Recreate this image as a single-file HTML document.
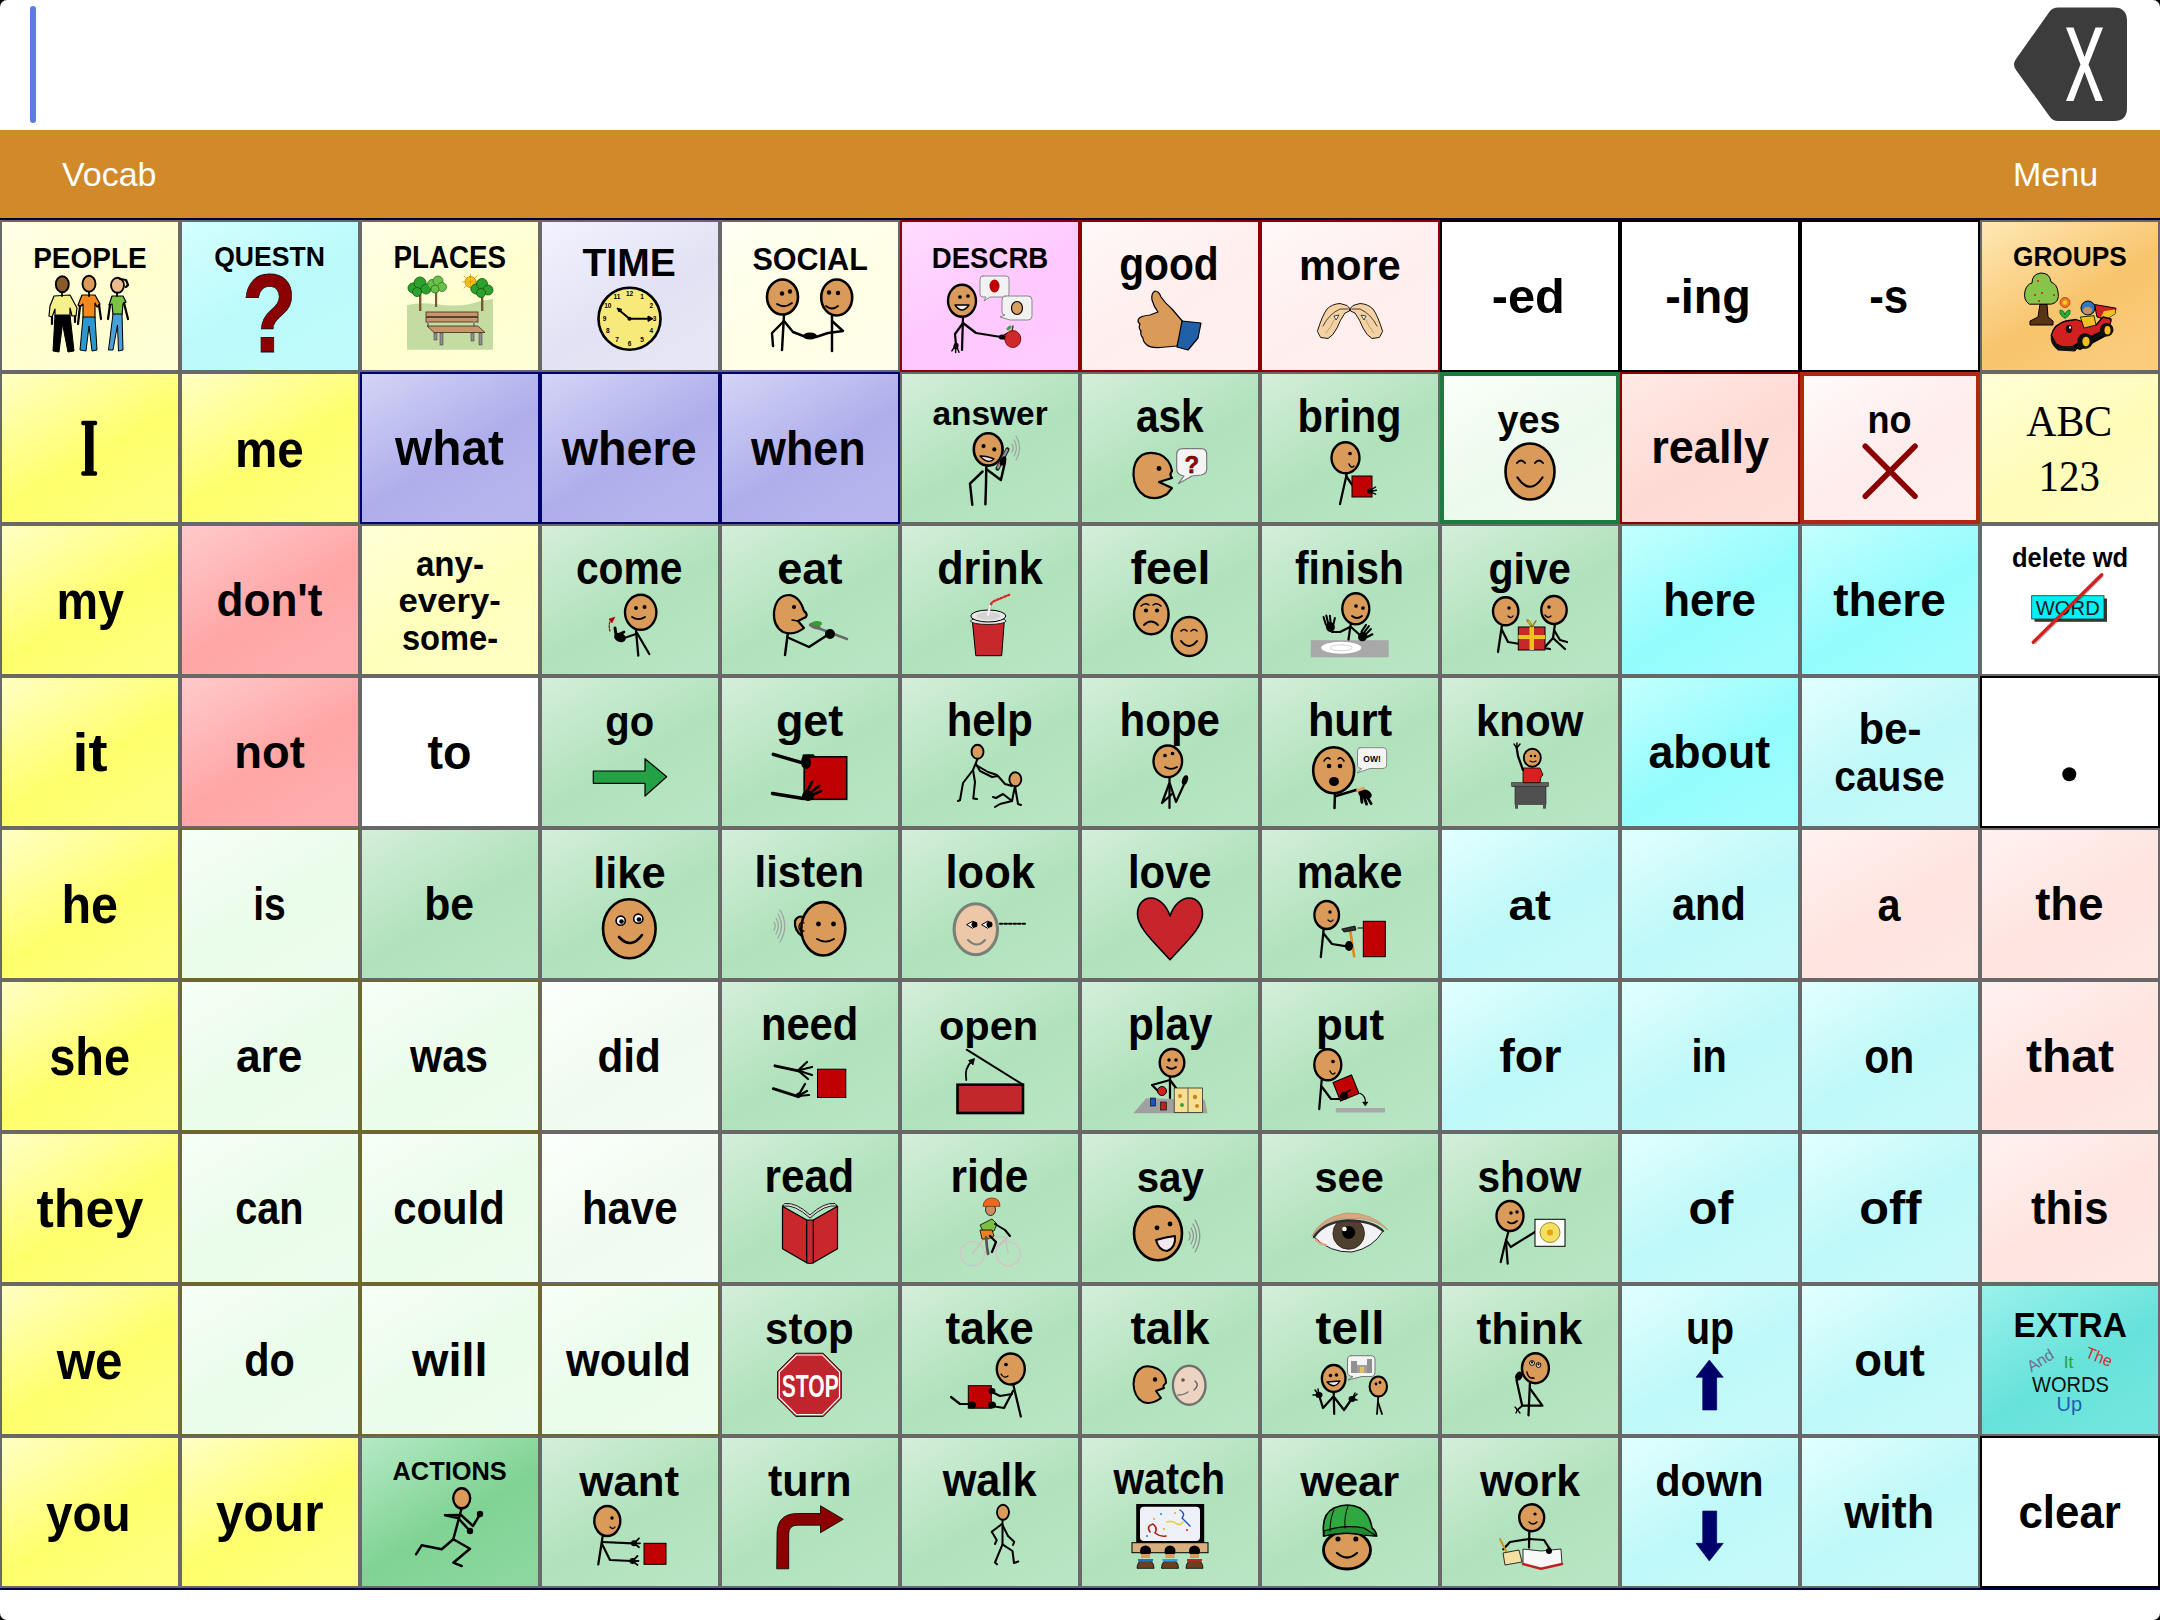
<!DOCTYPE html><html><head><meta charset="utf-8"><title>Vocab</title><style>
html,body{margin:0;padding:0;background:#000;width:2160px;height:1620px;overflow:hidden}
svg{display:block}
</style></head><body>
<svg width="2160" height="1620" viewBox="0 0 2160 1620" font-family="'Liberation Sans', sans-serif">
<defs>
<linearGradient id="g_cream" x1="0" y1="0" x2="0.7" y2="1"><stop offset="0" stop-color="#FFFFE8"/><stop offset="0.62" stop-color="#FFFFD0"/><stop offset="1" stop-color="#FFFFD5"/></linearGradient>
<linearGradient id="g_qcyan" x1="0" y1="0" x2="0.7" y2="1"><stop offset="0" stop-color="#D4FFFF"/><stop offset="0.62" stop-color="#BAFAFA"/><stop offset="1" stop-color="#C0FBFB"/></linearGradient>
<linearGradient id="g_time" x1="0" y1="0" x2="0.7" y2="1"><stop offset="0" stop-color="#F2F2FF"/><stop offset="0.62" stop-color="#E2E2F4"/><stop offset="1" stop-color="#E6E6F6"/></linearGradient>
<linearGradient id="g_social" x1="0" y1="0" x2="0.7" y2="1"><stop offset="0" stop-color="#FFFFF4"/><stop offset="0.62" stop-color="#FFFFE6"/><stop offset="1" stop-color="#FFFFE9"/></linearGradient>
<linearGradient id="g_descrb" x1="0" y1="0" x2="0.7" y2="1"><stop offset="0" stop-color="#FFDCFF"/><stop offset="0.62" stop-color="#FFC8FF"/><stop offset="1" stop-color="#FFCCFF"/></linearGradient>
<linearGradient id="g_lpink" x1="0" y1="0" x2="0.7" y2="1"><stop offset="0" stop-color="#FFF8F8"/><stop offset="0.62" stop-color="#FFEEEE"/><stop offset="1" stop-color="#FFF0F0"/></linearGradient>
<linearGradient id="g_white" x1="0" y1="0" x2="0.7" y2="1"><stop offset="0" stop-color="#FFFFFF"/><stop offset="0.62" stop-color="#FFFFFF"/><stop offset="1" stop-color="#FFFFFF"/></linearGradient>
<linearGradient id="g_groups" x1="0" y1="0" x2="0.7" y2="1"><stop offset="0" stop-color="#FFE8B4"/><stop offset="0.62" stop-color="#F8C46C"/><stop offset="1" stop-color="#FACC7C"/></linearGradient>
<linearGradient id="g_yellow" x1="0" y1="0" x2="0.7" y2="1"><stop offset="0" stop-color="#FFFFC4"/><stop offset="0.62" stop-color="#FFFF6C"/><stop offset="1" stop-color="#FFFF7F"/></linearGradient>
<linearGradient id="g_peri" x1="0" y1="0" x2="0.7" y2="1"><stop offset="0" stop-color="#D4D4F6"/><stop offset="0.62" stop-color="#AEAEEC"/><stop offset="1" stop-color="#B6B6EE"/></linearGradient>
<linearGradient id="g_green" x1="0" y1="0" x2="0.7" y2="1"><stop offset="0" stop-color="#D4EEDA"/><stop offset="0.62" stop-color="#B0E2BC"/><stop offset="1" stop-color="#B8E5C3"/></linearGradient>
<linearGradient id="g_yes" x1="0" y1="0" x2="0.7" y2="1"><stop offset="0" stop-color="#FAFFFA"/><stop offset="0.62" stop-color="#ECFAEC"/><stop offset="1" stop-color="#EFFBEF"/></linearGradient>
<linearGradient id="g_really" x1="0" y1="0" x2="0.7" y2="1"><stop offset="0" stop-color="#FFEAE6"/><stop offset="0.62" stop-color="#FFDAD4"/><stop offset="1" stop-color="#FFDED8"/></linearGradient>
<linearGradient id="g_no" x1="0" y1="0" x2="0.7" y2="1"><stop offset="0" stop-color="#FFFAFA"/><stop offset="0.62" stop-color="#FFECEC"/><stop offset="1" stop-color="#FFEFEF"/></linearGradient>
<linearGradient id="g_abc" x1="0" y1="0" x2="0.7" y2="1"><stop offset="0" stop-color="#FFFFD8"/><stop offset="0.62" stop-color="#FFFCB8"/><stop offset="1" stop-color="#FFFDBF"/></linearGradient>
<linearGradient id="g_salmon" x1="0" y1="0" x2="0.7" y2="1"><stop offset="0" stop-color="#FFCACA"/><stop offset="0.62" stop-color="#FFA6A6"/><stop offset="1" stop-color="#FFAEAE"/></linearGradient>
<linearGradient id="g_anyy" x1="0" y1="0" x2="0.7" y2="1"><stop offset="0" stop-color="#FFFFD8"/><stop offset="0.62" stop-color="#FFFFBC"/><stop offset="1" stop-color="#FFFFC2"/></linearGradient>
<linearGradient id="g_cyan" x1="0" y1="0" x2="0.7" y2="1"><stop offset="0" stop-color="#C4FFFF"/><stop offset="0.62" stop-color="#94FCFC"/><stop offset="1" stop-color="#9FFDFD"/></linearGradient>
<linearGradient id="g_lcyan" x1="0" y1="0" x2="0.7" y2="1"><stop offset="0" stop-color="#E2FFFF"/><stop offset="0.62" stop-color="#BEF8F8"/><stop offset="1" stop-color="#C6FAFA"/></linearGradient>
<linearGradient id="g_lgreen" x1="0" y1="0" x2="0.7" y2="1"><stop offset="0" stop-color="#F6FFF6"/><stop offset="0.62" stop-color="#EAFCEA"/><stop offset="1" stop-color="#EDFDED"/></linearGradient>
<linearGradient id="g_lgreen2" x1="0" y1="0" x2="0.7" y2="1"><stop offset="0" stop-color="#FCFFFC"/><stop offset="0.62" stop-color="#F0FBF0"/><stop offset="1" stop-color="#F3FCF3"/></linearGradient>
<linearGradient id="g_lpink2" x1="0" y1="0" x2="0.7" y2="1"><stop offset="0" stop-color="#FFF2F0"/><stop offset="0.62" stop-color="#FFE4E0"/><stop offset="1" stop-color="#FFE7E4"/></linearGradient>
<linearGradient id="g_actions" x1="0" y1="0" x2="0.7" y2="1"><stop offset="0" stop-color="#B4EAC4"/><stop offset="0.62" stop-color="#80D294"/><stop offset="1" stop-color="#8BD79F"/></linearGradient>
<linearGradient id="g_extra" x1="0" y1="0" x2="0.7" y2="1"><stop offset="0" stop-color="#9AF2EC"/><stop offset="0.62" stop-color="#66E2DA"/><stop offset="1" stop-color="#71E6DE"/></linearGradient>
</defs>
<rect x="0" y="0" width="2160" height="1620" rx="7" ry="7" fill="#FFFFFF"/>
<rect x="30" y="6" width="6" height="117" rx="3" fill="#5B7DE2"/>
<path d="M2016 59 L2050 11 Q2053 7.5 2058 7.5 L2114 7.5 Q2127 7.5 2127 21 L2127 108 Q2127 121 2114 121 L2058 121 Q2053 121 2050 117 L2016 70 Q2012 64.5 2016 59 Z" fill="#3C3C3C"/>
<path d="M2066 27.5 L2073.5 27.5 L2084.5 57 L2095.5 27.5 L2103 27.5 L2088.5 64.5 L2103 101 L2095.5 101 L2084.5 72 L2073.5 101 L2066 101 L2080.5 64.5 Z" fill="#FFFFFF"/>
<rect x="0" y="130" width="2160" height="88" fill="#D1892A"/>
<text x="62" y="185.5" font-size="34" fill="#FFFFFF">Vocab</text>
<text x="2013" y="185.5" font-size="34" fill="#FFFFFF">Menu</text>
<rect x="0" y="218" width="2160" height="2" fill="#000040"/>
<rect x="0" y="1588" width="2160" height="2" fill="#000040"/>
<g transform="translate(0,220)">
<rect x="0" y="0" width="180" height="152" fill="#686868"/>
<rect x="2" y="2" width="176" height="148" fill="url(#g_cream)"/>
<text transform="translate(33.20,47.5) scale(0.9772,1)" font-size="28.65" font-weight="bold" fill="#000">PEOPLE</text>
<polygon points="54,76 70,75 77,88 76,96 72,96 70,88 70,96 55,96 55,89 52,97 49,96 50,86" fill="#F6F08C" stroke="#000" stroke-width="1.2" stroke-linejoin="round"/><polygon points="55,95 70,95 74,131 68,132 62.5,104 59,132 53,131" fill="#000" stroke="#000" stroke-width="1" stroke-linejoin="round"/><polyline points="52,97 52,104" fill="none" stroke="#000" stroke-width="2.24" stroke-linecap="round" stroke-linejoin="round" /><polyline points="75,96 75,102" fill="none" stroke="#000" stroke-width="2.24" stroke-linecap="round" stroke-linejoin="round" /><ellipse cx="62.3" cy="64.2" rx="6.5" ry="8" fill="#8B5A2B" stroke="#000" stroke-width="1.89"/><polyline points="62,72 62,76" fill="none" stroke="#000" stroke-width="1.79" stroke-linecap="round" stroke-linejoin="round" /><polygon points="82,75 95,75 100,84 97,87 95,83 95,98 83,98 83,84 80,87 78,85" fill="#F08A1E" stroke="#000" stroke-width="1.2" stroke-linejoin="round"/><polygon points="83,97 95,97 97,130 92,131 89,106 86,131 80,130" fill="#2A98D0" stroke="#000" stroke-width="1" stroke-linejoin="round"/><polyline points="80,86 78,104" fill="none" stroke="#000" stroke-width="2.24" stroke-linecap="round" stroke-linejoin="round" /><polyline points="99,85 101,99" fill="none" stroke="#000" stroke-width="2.24" stroke-linecap="round" stroke-linejoin="round" /><ellipse cx="89" cy="63.7" rx="6.5" ry="8" fill="#D99A5A" stroke="#000" stroke-width="1.89"/><polyline points="89,72 89,76" fill="none" stroke="#000" stroke-width="1.79" stroke-linecap="round" stroke-linejoin="round" /><polygon points="112,76 123,76 126,82 123,84 122,95 113,95 112,84 109,85" fill="#7CC244" stroke="#000" stroke-width="1.2" stroke-linejoin="round"/><polygon points="113,94 122,94 123,130 118.5,131 117.5,105 113,130 108.5,130" fill="#4AA0D8" stroke="#000" stroke-width="1" stroke-linejoin="round"/><polyline points="110,85 108,99" fill="none" stroke="#000" stroke-width="2.24" stroke-linecap="round" stroke-linejoin="round" /><polyline points="124,83 128,99" fill="none" stroke="#000" stroke-width="2.24" stroke-linecap="round" stroke-linejoin="round" /><ellipse cx="117.5" cy="65.3" rx="6.5" ry="7.5" fill="#E8BC90" stroke="#000" stroke-width="1.89"/><polyline points="120,59 126,60 128,65 126,67" fill="none" stroke="#000" stroke-width="2.24" stroke-linecap="round" stroke-linejoin="round" /><polyline points="117,73 117,76" fill="none" stroke="#000" stroke-width="1.79" stroke-linecap="round" stroke-linejoin="round" />
</g>
<g transform="translate(180,220)">
<rect x="0" y="0" width="180" height="152" fill="#686868"/>
<rect x="2" y="2" width="176" height="148" fill="url(#g_qcyan)"/>
<text transform="translate(34.20,45.8) scale(0.9717,1)" font-size="27.36" font-weight="bold" fill="#000">QUESTN</text>
<text stroke="#200000" stroke-width="0.8" transform="translate(61.70,131.7) scale(0.8101,1)" font-size="111.32" font-weight="bold" fill="#8B0000">?</text>
</g>
<g transform="translate(360,220)">
<rect x="0" y="0" width="180" height="152" fill="#686868"/>
<rect x="2" y="2" width="176" height="148" fill="url(#g_cream)"/>
<text transform="translate(33.40,48) scale(0.9105,1)" font-size="30.52" font-weight="bold" fill="#000">PLACES</text>
<path d="M47,85 Q60,82 75,84 Q95,87 110,84 Q122,80 133,79 L133,129.7 L47,129.7 Z" fill="#C4DCA2" stroke="none" stroke-width="0" stroke-linecap="round" stroke-linejoin="round" /><rect x="59" y="66" width="2.4" height="25" rx="0" fill="#7A5A30" stroke="none" stroke-width="1" /><rect x="75" y="66" width="2.2" height="21" rx="0" fill="#7A5A30" stroke="none" stroke-width="1" /><rect x="121" y="70" width="2.4" height="21" rx="0" fill="#7A5A30" stroke="none" stroke-width="1" /><circle cx="110.5" cy="62" r="5.5" fill="#F8C820" stroke="#D09000" stroke-width="1"/><path d="M104,56 L117,68 M117,56 L104,68 M110.5,54 L110.5,70 M102.5,62 L118.5,62" fill="none" stroke="#E0A000" stroke-width="0.8" stroke-linecap="round" stroke-linejoin="round" /><g fill="#2EA02E" stroke="#0A5A0A" stroke-width="0.8"><circle cx="53" cy="68" r="5"/><circle cx="60" cy="63" r="6"/><circle cx="66" cy="69" r="5"/><circle cx="57" cy="72" r="4.5"/><circle cx="116" cy="69" r="5"/><circle cx="122" cy="64" r="5.5"/><circle cx="128" cy="70" r="5"/><circle cx="121" cy="73" r="4.5"/></g><g fill="#6CC04A" stroke="#2A7A1A" stroke-width="0.8"><circle cx="72" cy="64" r="4.5"/><circle cx="78" cy="61" r="5"/><circle cx="82" cy="67" r="4.5"/><circle cx="75" cy="69" r="4"/></g><rect x="66" y="92" width="52" height="4.5" rx="0" fill="#C8966A" stroke="#3A2A1A" stroke-width="0.8" /><rect x="66" y="97.5" width="52" height="4.5" rx="0" fill="#C8966A" stroke="#3A2A1A" stroke-width="0.8" /><rect x="67" y="101" width="2" height="6" rx="0" fill="#888" stroke="none" stroke-width="1" /><rect x="113" y="101" width="2" height="6" rx="0" fill="#888" stroke="none" stroke-width="1" /><polygon points="67,106 118,106 125,112.5 74,112.5" fill="#C8966A" stroke="#3A2A1A" stroke-width="0.8" stroke-linejoin="round"/><rect x="74" y="113" width="3" height="7" rx="0" fill="#909090" stroke="#444" stroke-width="0.6" /><rect x="80" y="113" width="3" height="12" rx="0" fill="#909090" stroke="#444" stroke-width="0.6" /><rect x="111" y="113" width="3" height="8" rx="0" fill="#909090" stroke="#444" stroke-width="0.6" /><rect x="119" y="113" width="3" height="12" rx="0" fill="#909090" stroke="#444" stroke-width="0.6" />
</g>
<g transform="translate(540,220)">
<rect x="0" y="0" width="180" height="152" fill="#686868"/>
<rect x="2" y="2" width="176" height="148" fill="url(#g_time)"/>
<text transform="translate(42.50,55.8) scale(1.0101,1)" font-size="38.66" font-weight="bold" fill="#000">TIME</text>
<circle cx="89.5" cy="98.7" r="31" fill="#F8EA7A" stroke="#000" stroke-width="2.6"/><text x="102.0" y="79.0" font-size="6.5" font-weight="bold" text-anchor="middle" fill="#000">1</text><text x="111.2" y="88.2" font-size="6.5" font-weight="bold" text-anchor="middle" fill="#000">2</text><text x="114.5" y="100.7" font-size="6.5" font-weight="bold" text-anchor="middle" fill="#000">3</text><text x="111.2" y="113.2" font-size="6.5" font-weight="bold" text-anchor="middle" fill="#000">4</text><text x="102.0" y="122.4" font-size="6.5" font-weight="bold" text-anchor="middle" fill="#000">5</text><text x="89.5" y="125.7" font-size="6.5" font-weight="bold" text-anchor="middle" fill="#000">6</text><text x="77.0" y="122.4" font-size="6.5" font-weight="bold" text-anchor="middle" fill="#000">7</text><text x="67.8" y="113.2" font-size="6.5" font-weight="bold" text-anchor="middle" fill="#000">8</text><text x="64.5" y="100.7" font-size="6.5" font-weight="bold" text-anchor="middle" fill="#000">9</text><text x="67.8" y="88.2" font-size="6.5" font-weight="bold" text-anchor="middle" fill="#000">10</text><text x="77.0" y="79.0" font-size="6.5" font-weight="bold" text-anchor="middle" fill="#000">11</text><text x="89.5" y="75.7" font-size="6.5" font-weight="bold" text-anchor="middle" fill="#000">12</text><polyline points="89.5,98.7 79,90" fill="none" stroke="#000" stroke-width="2.02" stroke-linecap="round" stroke-linejoin="round" /><polygon points="77,88 82,89.5 79,92" fill="#000" stroke="#000" stroke-width="1" stroke-linejoin="round"/><polyline points="89.5,98.7 110,98.7" fill="none" stroke="#000" stroke-width="2.02" stroke-linecap="round" stroke-linejoin="round" /><polygon points="113,98.7 108,96 108,101.4" fill="#000" stroke="#000" stroke-width="1" stroke-linejoin="round"/><circle cx="89.5" cy="98.7" r="2.07" fill="#000"/>
</g>
<g transform="translate(720,220)">
<rect x="0" y="0" width="180" height="152" fill="#686868"/>
<rect x="2" y="2" width="176" height="148" fill="url(#g_social)"/>
<text transform="translate(32.50,49.7) scale(0.9817,1)" font-size="31.09" font-weight="bold" fill="#000">SOCIAL</text>
<polyline points="64,95 62,130" fill="none" stroke="#000" stroke-width="2.46" stroke-linecap="round" stroke-linejoin="round" /><polyline points="64,101 52,113 53,126" fill="none" stroke="#000" stroke-width="2.46" stroke-linecap="round" stroke-linejoin="round" /><polyline points="64,101 73,112 86,117" fill="none" stroke="#000" stroke-width="2.46" stroke-linecap="round" stroke-linejoin="round" /><polyline points="112,96 112,131" fill="none" stroke="#000" stroke-width="2.46" stroke-linecap="round" stroke-linejoin="round" /><polyline points="112,101 123,111 108,113 96,117" fill="none" stroke="#000" stroke-width="2.46" stroke-linecap="round" stroke-linejoin="round" /><ellipse cx="90" cy="116" rx="7" ry="3.5" fill="#000"/><ellipse cx="62.5" cy="77" rx="15.5" ry="17.5" fill="#D99A5A" stroke="#000" stroke-width="2.60"/><circle cx="62" cy="73.5" r="2.1849999999999996" fill="#000"/><circle cx="70" cy="71.5" r="2.1849999999999996" fill="#000"/><path d="M57,84 Q64.5,89.0 72,83" fill="none" stroke="#000" stroke-width="1.8" stroke-linecap="round" stroke-linejoin="round" /><ellipse cx="116.7" cy="77.5" rx="15.5" ry="18" fill="#D99A5A" stroke="#000" stroke-width="2.60"/><circle cx="109" cy="72.5" r="2.1849999999999996" fill="#000"/><circle cx="118" cy="73" r="2.1849999999999996" fill="#000"/><path d="M106,86 Q112.0,91.0 118,86" fill="none" stroke="#000" stroke-width="1.8" stroke-linecap="round" stroke-linejoin="round" />
</g>
<g transform="translate(900,220)">
<rect x="0" y="0" width="180" height="152" fill="#900008"/>
<rect x="2" y="2" width="176" height="148" fill="url(#g_descrb)"/>
<text transform="translate(31.70,48.3) scale(0.9266,1)" font-size="29.80" font-weight="bold" fill="#000">DESCRB</text>
<polyline points="63,97 62,130" fill="none" stroke="#000" stroke-width="2.24" stroke-linecap="round" stroke-linejoin="round" /><polyline points="63,103 55,114 56,125" fill="none" stroke="#000" stroke-width="2.24" stroke-linecap="round" stroke-linejoin="round" /><polyline points="63,103 76,113 101,117" fill="none" stroke="#000" stroke-width="2.24" stroke-linecap="round" stroke-linejoin="round" /><g transform="translate(56,126) rotate(100) scale(0.8)"><ellipse cx="0" cy="0" rx="4" ry="3.2" fill="#000"/><polyline points="2,-2 7,-5" fill="none" stroke="#000" stroke-width="1.79" stroke-linecap="round" stroke-linejoin="round" /><polyline points="3,0 8,-1" fill="none" stroke="#000" stroke-width="1.79" stroke-linecap="round" stroke-linejoin="round" /><polyline points="2,2 7,4" fill="none" stroke="#000" stroke-width="1.79" stroke-linecap="round" stroke-linejoin="round" /></g><g transform="translate(102,117) rotate(0) scale(0.8)"><ellipse cx="0" cy="0" rx="4" ry="3.2" fill="#000"/><polyline points="2,-2 7,-5" fill="none" stroke="#000" stroke-width="1.79" stroke-linecap="round" stroke-linejoin="round" /><polyline points="3,0 8,-1" fill="none" stroke="#000" stroke-width="1.79" stroke-linecap="round" stroke-linejoin="round" /><polyline points="2,2 7,4" fill="none" stroke="#000" stroke-width="1.79" stroke-linecap="round" stroke-linejoin="round" /></g><ellipse cx="62" cy="80.8" rx="14" ry="16" fill="#D99A5A" stroke="#000" stroke-width="2.36"/><circle cx="60" cy="77" r="1.8399999999999999" fill="#000"/><circle cx="68" cy="76" r="1.8399999999999999" fill="#000"/><path d="M55,85 Q62,95 69,85 Z" fill="#F4E8E8" stroke="#000" stroke-width="1.4" stroke-linecap="round" stroke-linejoin="round" /><path d="M83,56 L106,56 Q109,56 109,59 L109,74 Q109,77 106,77 L90,77 L84,81 L86,77 L83,77 Q80,77 80,74 L80,59 Q80,56 83,56 Z" fill="#F2F2F2" stroke="#888" stroke-width="1" stroke-linecap="round" stroke-linejoin="round" /><ellipse cx="94.5" cy="66" rx="5" ry="6.5" fill="#C00000"/><path d="M105,76 L128,76 Q132,76 132,80 L132,96 Q132,100 128,100 L110,100 L100,97 L105,95 Q102,95 102,92 L102,80 Q102,76 105,76 Z" fill="#F2F2F2" stroke="#888" stroke-width="1" stroke-linecap="round" stroke-linejoin="round" /><ellipse cx="117" cy="88" rx="5.5" ry="6.5" fill="#D8A060" stroke="#000" stroke-width="1.18"/><ellipse cx="112.8" cy="119" rx="8" ry="8.5" fill="#D02828" stroke="#600" stroke-width="0.8"/><polyline points="112,111 113,106" fill="none" stroke="#503010" stroke-width="1.34" stroke-linecap="round" stroke-linejoin="round" /><ellipse cx="109" cy="108" rx="3" ry="1.6" fill="#40A040" transform="rotate(-40 109 108)"/>
</g>
<g transform="translate(1080,220)">
<rect x="0" y="0" width="180" height="152" fill="#900008"/>
<rect x="2" y="2" width="176" height="148" fill="url(#g_lpink)"/>
<text transform="translate(39.20,60) scale(0.8876,1)" font-size="45.93" font-weight="bold" fill="#000">good</text>
<path d="M75,71 Q71,73 72,80 Q74,87 78,92 L70,95 Q60,96 58.5,99 Q57,102 60,104 Q58,108 61,111 Q60,115 63,118 Q63,122 67,125 Q70,128 80,127.5 L97,126 L104,103 Q97,95 92,89 Q85,83 81,77 Q79,71 75,71 Z" fill="#D99A5A" stroke="#000" stroke-width="1.2" stroke-linecap="round" stroke-linejoin="round" /><polygon points="102,101 121,103 118,118 108,130 97,127" fill="#2060A8" stroke="#000" stroke-width="1.2" stroke-linejoin="round"/>
</g>
<g transform="translate(1260,220)">
<rect x="0" y="0" width="180" height="152" fill="#900008"/>
<rect x="2" y="2" width="176" height="148" fill="url(#g_lpink)"/>
<text transform="translate(38.90,59.7) scale(0.9767,1)" font-size="42.67" font-weight="bold" fill="#000">more</text>
<path d="M57.5,111 Q62,96 67,89 Q72,84 80,83.5 L87,85.5 Q90.5,88 89.5,91 L85,93 Q80,100 77,108 Q73,116 68,118.5 L61,117.5 Z" fill="#F4D2A4" stroke="#000" stroke-width="0.9" stroke-linecap="round" stroke-linejoin="round" /><path d="M122.5,111 Q118,96 113,89 Q108,84 100,83.5 L93,85.5 Q89.5,88 90.5,91 L95,93 Q100,100 103,108 Q107,116 112,118.5 L119,117.5 Z" fill="#F4D2A4" stroke="#000" stroke-width="0.9" stroke-linecap="round" stroke-linejoin="round" /><polygon points="74,96 79,95 76,100" fill="#FFFFFF" stroke="#000" stroke-width="0.7" stroke-linejoin="round"/><polygon points="106,96 101,95 104,100" fill="#FFFFFF" stroke="#000" stroke-width="0.7" stroke-linejoin="round"/><path d="M63,106 Q69,94 80,89 L88,89" fill="none" stroke="#000" stroke-width="0.7" stroke-linecap="round" stroke-linejoin="round" /><path d="M117,106 Q111,94 100,89 L92,89" fill="none" stroke="#000" stroke-width="0.7" stroke-linecap="round" stroke-linejoin="round" /><path d="M66,113 Q72,106 74,100" fill="none" stroke="#B08060" stroke-width="0.7" stroke-linecap="round" stroke-linejoin="round" /><path d="M114,113 Q108,106 106,100" fill="none" stroke="#B08060" stroke-width="0.7" stroke-linecap="round" stroke-linejoin="round" />
</g>
<g transform="translate(1440,220)">
<rect x="0" y="0" width="180" height="152" fill="#000000"/>
<rect x="2" y="2" width="176" height="148" fill="url(#g_white)"/>
<text transform="translate(51.70,92.5) scale(1.0095,1)" font-size="48.28" font-weight="bold" fill="#000">-ed</text>
</g>
<g transform="translate(1620,220)">
<rect x="0" y="0" width="180" height="152" fill="#000000"/>
<rect x="2" y="2" width="176" height="148" fill="url(#g_white)"/>
<text transform="translate(45.20,92.5) scale(0.9673,1)" font-size="48.28" font-weight="bold" fill="#000">-ing</text>
</g>
<g transform="translate(1800,220)">
<rect x="0" y="0" width="180" height="152" fill="#000000"/>
<rect x="2" y="2" width="176" height="148" fill="url(#g_white)"/>
<text transform="translate(69.20,92.5) scale(0.9297,1)" font-size="47.31" font-weight="bold" fill="#000">-s</text>
</g>
<g transform="translate(1980,220)">
<rect x="0" y="0" width="180" height="152" fill="#686868"/>
<rect x="2" y="2" width="176" height="148" fill="url(#g_groups)"/>
<text transform="translate(33.00,45.5) scale(0.9749,1)" font-size="26.93" font-weight="bold" fill="#000">GROUPS</text>
<polygon points="60,84 67,84 68,97 73,101 73,105 50,105 50,101 58,97" fill="#5A3418" stroke="#000" stroke-width="1" stroke-linejoin="round"/><path d="M49,84 Q43,80 45,71 Q47,64 52,63 Q52,54 61,53 Q70,53 71,62 Q77,64 78,72 Q80,82 72,84 Z" fill="#88C44A" stroke="#000" stroke-width="1" stroke-linecap="round" stroke-linejoin="round" /><circle cx="58" cy="61" r="1" fill="#C02020"/><circle cx="55" cy="75" r="1" fill="#C02020"/><circle cx="62" cy="73" r="1" fill="#C02020"/><circle cx="74" cy="75" r="1" fill="#C02020"/><circle cx="59" cy="81" r="1" fill="#C02020"/><path d="M85,98 Q79,96 80,90 Q84,90 85,95 Q86,90 90,90 Q91,96 85,98 Z" fill="#20B040" stroke="#0A6A20" stroke-width="0.8" stroke-linecap="round" stroke-linejoin="round" /><circle cx="85" cy="82.5" r="5" fill="#F07828" stroke="#A04010" stroke-width="0.8"/><circle cx="85" cy="82.5" r="2.2" fill="#F8D020"/><polygon points="114.5,84.5 136,88.2 135,93.8 125.7,99.5 117,97" fill="#D02020" stroke="#000" stroke-width="1" stroke-linejoin="round"/><polygon points="124,91 135.5,89.5 135,93.8 125.7,99.5 121,97" fill="#F0C020" stroke="none" stroke-width="1.0" stroke-linejoin="round"/><path d="M71.3,115.4 Q74,104 86,101 L96,99.5 L102,101.5 L116,105 L123,97 L131,99 Q132,104 125,110 L106,119 L94,126 Q84,129 76,124 Z" fill="#D02020" stroke="#000" stroke-width="1.3" stroke-linecap="round" stroke-linejoin="round" /><path d="M71.3,115.4 Q70,124 78,130 L95,131 L98,127 Q84,129 76,124 Z" fill="#111" stroke="#111" stroke-width="1" stroke-linecap="round" stroke-linejoin="round" /><path d="M94,126 L125,110 L128,114 L100,129 Z" fill="#111" stroke="#000" stroke-width="2.0" stroke-linecap="round" stroke-linejoin="round" /><ellipse cx="89" cy="109" rx="3.2" ry="4" fill="#111"/><ellipse cx="90" cy="107.5" rx="1" ry="1.3" fill="#FFF"/><circle cx="105.1" cy="121.1" r="7.8" fill="#111"/><ellipse cx="106" cy="121.5" rx="3.6" ry="4.8" fill="#F0C020"/><circle cx="126.7" cy="109.8" r="6.8" fill="#111"/><ellipse cx="127.5" cy="110.2" rx="3" ry="4.3" fill="#F0C020"/><polygon points="100.4,97 114,95.7 116,105 104,108" fill="#F0C020" stroke="#000" stroke-width="0.8" stroke-linejoin="round"/><circle cx="108" cy="88" r="7" fill="#2878C8" stroke="#000" stroke-width="1"/><ellipse cx="107.5" cy="90.5" rx="4.6" ry="3.8" fill="#C8905A"/>
</g>
<g transform="translate(0,372)">
<rect x="0" y="0" width="180" height="152" fill="#686868"/>
<rect x="2" y="2" width="176" height="148" fill="url(#g_yellow)"/>
<path d="M81.2,50.5 Q81.2,48.7 83,48.7 L95.4,48.7 Q97.2,48.7 97.2,50.5 L97.2,51.5 Q97.2,53.2 95.4,53.2 L93.6,53.2 L93.6,99.2 L95.4,99.2 Q97.2,99.2 97.2,101 L97.2,102 Q97.2,103.7 95.4,103.7 L83,103.7 Q81.2,103.7 81.2,102 L81.2,101 Q81.2,99.2 83,99.2 L85,99.2 L85,53.2 L83,53.2 Q81.2,53.2 81.2,51.5 Z" fill="#000"/>
</g>
<g transform="translate(180,372)">
<rect x="0" y="0" width="180" height="152" fill="#686868"/>
<rect x="2" y="2" width="176" height="148" fill="url(#g_yellow)"/>
<text transform="translate(55.00,95) scale(0.9332,1)" font-size="51.02" font-weight="bold" fill="#000">me</text>
</g>
<g transform="translate(360,372)">
<rect x="0" y="0" width="180" height="152" fill="#000070"/>
<rect x="2" y="2" width="176" height="148" fill="url(#g_peri)"/>
<text transform="translate(35.04,93.4) scale(0.9570,1)" font-size="49.93" font-weight="bold" fill="#000">what</text>
</g>
<g transform="translate(540,372)">
<rect x="0" y="0" width="180" height="152" fill="#000070"/>
<rect x="2" y="2" width="176" height="148" fill="url(#g_peri)"/>
<text transform="translate(21.84,93) scale(0.9523,1)" font-size="48.97" font-weight="bold" fill="#000">where</text>
</g>
<g transform="translate(720,372)">
<rect x="0" y="0" width="180" height="152" fill="#000070"/>
<rect x="2" y="2" width="176" height="148" fill="url(#g_peri)"/>
<text transform="translate(31.03,93) scale(0.9170,1)" font-size="48.97" font-weight="bold" fill="#000">when</text>
</g>
<g transform="translate(900,372)">
<rect x="0" y="0" width="180" height="152" fill="#686868"/>
<rect x="2" y="2" width="176" height="148" fill="url(#g_green)"/>
<text transform="translate(32.50,53) scale(1.0123,1)" font-size="33.02" font-weight="bold" fill="#000">answer</text>
<polyline points="86.3,94.8 86,112 85.4,132.3" fill="none" stroke="#000" stroke-width="2.46" stroke-linecap="round" stroke-linejoin="round" /><polyline points="82.6,99.5 70,111.7 72.3,132.8" fill="none" stroke="#000" stroke-width="2.46" stroke-linecap="round" stroke-linejoin="round" /><polyline points="86.8,97.6 100.9,107.9 105,90" fill="none" stroke="#000" stroke-width="2.46" stroke-linecap="round" stroke-linejoin="round" /><ellipse cx="88.2" cy="77.4" rx="14.4" ry="16.2" fill="#D99A5A" stroke="#000" stroke-width="2.60"/><circle cx="83.5" cy="74.1" r="2.07" fill="#000"/><circle cx="94.3" cy="77.4" r="2.07" fill="#000"/><path d="M80,84 Q88,93 94,87 Q88,84 80,84 Z" fill="#F0E0E0" stroke="#000" stroke-width="1.4" stroke-linecap="round" stroke-linejoin="round" /><polyline points="107.4,77.5 97.5,96.5" fill="none" stroke="#222" stroke-width="4.26" stroke-linecap="round" stroke-linejoin="round" /><polyline points="107,78 98,95.5" fill="none" stroke="#909090" stroke-width="2.46" stroke-linecap="round" stroke-linejoin="round" /><ellipse cx="103" cy="89" rx="3" ry="5" fill="#000" transform="rotate(25 103 89)"/><path d="M112.0,72 Q114.4,76 112.0,80" fill="none" stroke="#A0A0A0" stroke-width="1.2" stroke-linecap="round" stroke-linejoin="round" /><path d="M114.0,68 Q118.8,76 114.0,84" fill="none" stroke="#A0A0A0" stroke-width="1.2" stroke-linecap="round" stroke-linejoin="round" /><path d="M116.0,64 Q123.2,76 116.0,88" fill="none" stroke="#A0A0A0" stroke-width="1.2" stroke-linecap="round" stroke-linejoin="round" />
</g>
<g transform="translate(1080,372)">
<rect x="0" y="0" width="180" height="152" fill="#686868"/>
<rect x="2" y="2" width="176" height="148" fill="url(#g_green)"/>
<text transform="translate(55.90,60) scale(0.8852,1)" font-size="45.93" font-weight="bold" fill="#000">ask</text>
<path d="M92,99 Q90,87 80,82.5 Q70,79 62,83 Q53,89 53.5,103 Q54,117 65,124 Q76,129 87,122 L92,116 L79,110 L92,106 Q89,103 92,99 Z" fill="#D99A5A" stroke="#000" stroke-width="2.2" stroke-linecap="round" stroke-linejoin="round" /><circle cx="79" cy="96.5" r="2.415" fill="#000"/><path d="M103,76.7 L121,76.7 Q126.7,76.7 126.7,82.5 L126.7,97 Q126.7,102 121,103 L112,104 L98.3,111.7 L104,104 Q96.7,103 96.7,97 L96.7,82.5 Q96.7,76.7 103,76.7 Z" fill="#F4F4F4" stroke="#7A7A7A" stroke-width="1.2" stroke-linecap="round" stroke-linejoin="round" /><text x="111.8" y="101" font-size="24" font-weight="bold" text-anchor="middle" fill="#A00000" stroke="#300" stroke-width="0.5">?</text>
</g>
<g transform="translate(1260,372)">
<rect x="0" y="0" width="180" height="152" fill="#686868"/>
<rect x="2" y="2" width="176" height="148" fill="url(#g_green)"/>
<text transform="translate(37.50,60) scale(0.9148,1)" font-size="45.52" font-weight="bold" fill="#000">bring</text>
<polyline points="87,101 80,132" fill="none" stroke="#000" stroke-width="2.24" stroke-linecap="round" stroke-linejoin="round" /><polyline points="86,104 93,114 108,118" fill="none" stroke="#000" stroke-width="2.24" stroke-linecap="round" stroke-linejoin="round" /><rect x="92" y="104" width="20" height="21" rx="0" fill="#C00000" stroke="#000" stroke-width="1" /><g transform="translate(110,119) rotate(0) scale(0.8)"><ellipse cx="0" cy="0" rx="4" ry="3.2" fill="#000"/><polyline points="2,-2 7,-5" fill="none" stroke="#000" stroke-width="1.79" stroke-linecap="round" stroke-linejoin="round" /><polyline points="3,0 8,-1" fill="none" stroke="#000" stroke-width="1.79" stroke-linecap="round" stroke-linejoin="round" /><polyline points="2,2 7,4" fill="none" stroke="#000" stroke-width="1.79" stroke-linecap="round" stroke-linejoin="round" /></g><ellipse cx="85.5" cy="85.8" rx="14" ry="15.5" fill="#D99A5A" stroke="#000" stroke-width="2.36"/><circle cx="90" cy="81.5" r="1.8399999999999999" fill="#000"/><path d="M89,92 Q91,97 94,94" fill="none" stroke="#000" stroke-width="1.4" stroke-linecap="round" stroke-linejoin="round" />
</g>
<g transform="translate(1440,372)">
<rect x="0" y="0" width="180" height="152" fill="#1E7A3E"/>
<rect x="4" y="4" width="172" height="144" fill="url(#g_yes)"/>
<text transform="translate(57.50,60.8) scale(0.9787,1)" font-size="38.59" font-weight="bold" fill="#000">yes</text>
<ellipse cx="90" cy="99.5" rx="24.5" ry="28" fill="#D99A5A" stroke="#000" stroke-width="2.60"/><path d="M77,91 Q81,86 85,91" fill="none" stroke="#000" stroke-width="2" stroke-linecap="round" stroke-linejoin="round" /><path d="M95,91 Q99,86 103,91" fill="none" stroke="#000" stroke-width="2" stroke-linecap="round" stroke-linejoin="round" /><path d="M77.5,105.5 Q90,124 102.5,105.5" fill="none" stroke="#000" stroke-width="2.2" stroke-linecap="round" stroke-linejoin="round" />
</g>
<g transform="translate(1620,372)">
<rect x="0" y="0" width="180" height="152" fill="#900000"/>
<rect x="2" y="2" width="176" height="148" fill="url(#g_really)"/>
<text transform="translate(31.20,91.3) scale(0.9824,1)" font-size="45.93" font-weight="bold" fill="#000">really</text>
</g>
<g transform="translate(1800,372)">
<rect x="0" y="0" width="180" height="152" fill="#B02810"/>
<rect x="4" y="4" width="172" height="144" fill="url(#g_no)"/>
<text transform="translate(67.50,60.8) scale(0.9352,1)" font-size="38.59" font-weight="bold" fill="#000">no</text>
<polyline points="65.3,74.2 115,124.2" fill="none" stroke="#8B0000" stroke-width="5.6" stroke-linecap="round" stroke-linejoin="round" /><polyline points="115,74.2 65.3,124.2" fill="none" stroke="#8B0000" stroke-width="5.6" stroke-linecap="round" stroke-linejoin="round" />
</g>
<g transform="translate(1980,372)">
<rect x="0" y="0" width="180" height="152" fill="#686868"/>
<rect x="2" y="2" width="176" height="148" fill="url(#g_abc)"/>
<text transform="translate(46.2,64.2) scale(0.93,1)" font-size="45" font-family="'Liberation Serif', serif" fill="#000">ABC</text><text transform="translate(58.5,118.7) scale(0.93,1)" font-size="44" font-family="'Liberation Serif', serif" fill="#000">123</text>
</g>
<g transform="translate(0,524)">
<rect x="0" y="0" width="180" height="152" fill="#686868"/>
<rect x="2" y="2" width="176" height="148" fill="url(#g_yellow)"/>
<text transform="translate(56.50,95) scale(0.8910,1)" font-size="52.50" font-weight="bold" fill="#000">my</text>
</g>
<g transform="translate(180,524)">
<rect x="0" y="0" width="180" height="152" fill="#686868"/>
<rect x="2" y="2" width="176" height="148" fill="url(#g_salmon)"/>
<text transform="translate(36.50,91.7) scale(0.9575,1)" font-size="46.07" font-weight="bold" fill="#000">don&#39;t</text>
</g>
<g transform="translate(360,524)">
<rect x="0" y="0" width="180" height="152" fill="#686868"/>
<rect x="2" y="2" width="176" height="148" fill="url(#g_anyy)"/>
<text transform="translate(55.90,51.7) scale(0.9717,1)" font-size="34.14" font-weight="bold" fill="#000">any-</text>
<text transform="translate(38.50,88.3) scale(1.0224,1)" font-size="33.95" font-weight="bold" fill="#000">every-</text>
<text transform="translate(41.90,126) scale(0.9123,1)" font-size="35.81" font-weight="bold" fill="#000">some-</text>
</g>
<g transform="translate(540,524)">
<rect x="0" y="0" width="180" height="152" fill="#686868"/>
<rect x="2" y="2" width="176" height="148" fill="url(#g_green)"/>
<text transform="translate(35.90,60) scale(0.8799,1)" font-size="46.38" font-weight="bold" fill="#000">come</text>
<polyline points="96,106.7 98.3,131.7" fill="none" stroke="#000" stroke-width="2.24" stroke-linecap="round" stroke-linejoin="round" /><polyline points="97,109 109.3,130" fill="none" stroke="#000" stroke-width="2.24" stroke-linecap="round" stroke-linejoin="round" /><polyline points="96,110 84,114 78,115" fill="none" stroke="#000" stroke-width="2.24" stroke-linecap="round" stroke-linejoin="round" /><ellipse cx="80" cy="113.5" rx="6" ry="4.5" fill="#000" transform="rotate(20 80 113.5)"/><polyline points="76,111 75,104" fill="none" stroke="#000" stroke-width="2.91" stroke-linecap="round" stroke-linejoin="round" /><polyline points="80,110 84,108" fill="none" stroke="#000" stroke-width="2.69" stroke-linecap="round" stroke-linejoin="round" /><path d="M70,107 Q68,101 71,95" fill="none" stroke="#B00000" stroke-width="1.3" stroke-linecap="round" stroke-linejoin="round" stroke-dasharray="2,1.5"/><polygon points="69,95 75,93 72,99" fill="#B00000" stroke="#B00000" stroke-width="0.5" stroke-linejoin="round"/><ellipse cx="100.7" cy="88.3" rx="15.7" ry="17.5" fill="#D99A5A" stroke="#000" stroke-width="2.36"/><circle cx="96" cy="84" r="1.9549999999999998" fill="#000"/><circle cx="104.5" cy="83" r="1.9549999999999998" fill="#000"/><path d="M92,93 Q98.5,97.4 105,93" fill="none" stroke="#000" stroke-width="1.8" stroke-linecap="round" stroke-linejoin="round" />
</g>
<g transform="translate(720,524)">
<rect x="0" y="0" width="180" height="152" fill="#686868"/>
<rect x="2" y="2" width="176" height="148" fill="url(#g_green)"/>
<text transform="translate(57.20,59.7) scale(1.0195,1)" font-size="44.33" font-weight="bold" fill="#000">eat</text>
<polyline points="68,108 65,131" fill="none" stroke="#000" stroke-width="2.46" stroke-linecap="round" stroke-linejoin="round" /><polyline points="69,114 89,123 109,110" fill="none" stroke="#000" stroke-width="2.46" stroke-linecap="round" stroke-linejoin="round" /><polyline points="90,101 127,115" fill="none" stroke="#6A6A6A" stroke-width="2.46" stroke-linecap="round" stroke-linejoin="round" /><ellipse cx="95" cy="102" rx="6" ry="3" fill="#6A6A6A" transform="rotate(20 95 102)"/><ellipse cx="97" cy="99.5" rx="5" ry="2.5" fill="#30A030"/><ellipse cx="110" cy="110" rx="5" ry="5" fill="#000"/><path d="M84,87 Q80,73 70,71 Q56,71 54,88 Q53,102 63,108 Q74,112 84,104 L78,97 L86,93 Q88,90 84,87 Z" fill="#D99A5A" stroke="#000" stroke-width="2.2" stroke-linecap="round" stroke-linejoin="round" /><circle cx="74" cy="83" r="2.07" fill="#000"/><polyline points="72,96 78,97" fill="none" stroke="#000" stroke-width="1.57" stroke-linecap="round" stroke-linejoin="round" />
</g>
<g transform="translate(900,524)">
<rect x="0" y="0" width="180" height="152" fill="#686868"/>
<rect x="2" y="2" width="176" height="148" fill="url(#g_green)"/>
<text transform="translate(37.20,59.7) scale(0.9481,1)" font-size="45.52" font-weight="bold" fill="#000">drink</text>
<polyline points="88,88 92,78 109.2,70.8" fill="none" stroke="#F4F4F4" stroke-width="2.46" stroke-linecap="round" stroke-linejoin="round" /><polyline points="88,88 92,78 109.2,70.8" fill="none" stroke="#D03030" stroke-width="2.46" stroke-linecap="round" stroke-linejoin="round" stroke-dasharray="2,2"/><polygon points="72.5,98.3 104.2,98.3 101.7,131.7 75.8,131.7" fill="#C8282C" stroke="#000" stroke-width="1" stroke-linejoin="round"/><ellipse cx="88.3" cy="97" rx="17.8" ry="3.5" fill="#E4E4E4" stroke="#000" stroke-width="0.8"/><ellipse cx="88.3" cy="92" rx="17.5" ry="6" fill="#E8E8E8" stroke="#000" stroke-width="1"/><ellipse cx="88.3" cy="92" rx="12" ry="3.8" fill="#D4D4D4"/><polyline points="88,91 90,82" fill="none" stroke="#F4F4F4" stroke-width="2.24" stroke-linecap="round" stroke-linejoin="round" />
</g>
<g transform="translate(1080,524)">
<rect x="0" y="0" width="180" height="152" fill="#686868"/>
<rect x="2" y="2" width="176" height="148" fill="url(#g_green)"/>
<text transform="translate(50.50,59.7) scale(1.0201,1)" font-size="45.52" font-weight="bold" fill="#000">feel</text>
<ellipse cx="71.3" cy="90.5" rx="17.3" ry="19.7" fill="#D99A5A" stroke="#000" stroke-width="2.36"/><circle cx="66" cy="86.5" r="2.07" fill="#000"/><circle cx="77" cy="86.5" r="2.07" fill="#000"/><path d="M61,82 Q65,78 69,81" fill="none" stroke="#000" stroke-width="1.4" stroke-linecap="round" stroke-linejoin="round" /><path d="M73,81 Q77,78 81,82" fill="none" stroke="#000" stroke-width="1.4" stroke-linecap="round" stroke-linejoin="round" /><path d="M64,101 Q71,94 78,101" fill="none" stroke="#000" stroke-width="1.8" stroke-linecap="round" stroke-linejoin="round" /><ellipse cx="109.2" cy="112.5" rx="17.5" ry="19.5" fill="#D99A5A" stroke="#000" stroke-width="2.36"/><path d="M101,107 Q104,104 107,107" fill="none" stroke="#000" stroke-width="1.6" stroke-linecap="round" stroke-linejoin="round" /><path d="M111,107 Q114,104 117,107" fill="none" stroke="#000" stroke-width="1.6" stroke-linecap="round" stroke-linejoin="round" /><path d="M101,117 Q109,127 117,117" fill="none" stroke="#000" stroke-width="2" stroke-linecap="round" stroke-linejoin="round" />
</g>
<g transform="translate(1260,524)">
<rect x="0" y="0" width="180" height="152" fill="#686868"/>
<rect x="2" y="2" width="176" height="148" fill="url(#g_green)"/>
<text transform="translate(35.00,59.7) scale(0.8987,1)" font-size="45.52" font-weight="bold" fill="#000">finish</text>
<rect x="50.8" y="116.2" width="77.9" height="17.1" rx="0" fill="#A8A8A8" stroke="none" stroke-width="1" /><ellipse cx="81.2" cy="123.8" rx="20" ry="6" fill="#FFFFFF"/><ellipse cx="81.2" cy="123.8" rx="11" ry="3" fill="none" stroke="#C8C8C8" stroke-width="0.8"/><polyline points="90.8,99.7 88.5,115.5" fill="none" stroke="#000" stroke-width="2.24" stroke-linecap="round" stroke-linejoin="round" /><polyline points="90,103 80,108 72,108" fill="none" stroke="#000" stroke-width="2.24" stroke-linecap="round" stroke-linejoin="round" /><polyline points="91,103 101,112" fill="none" stroke="#000" stroke-width="2.24" stroke-linecap="round" stroke-linejoin="round" /><g transform="translate(70,101) rotate(-10)"><ellipse cx="0" cy="2" rx="4.5" ry="5" fill="#000"/><polyline points="-4,-1 -5,-9" fill="none" stroke="#000" stroke-width="2.02" stroke-linecap="round" stroke-linejoin="round" /><polyline points="-1.5,-2 -2,-10" fill="none" stroke="#000" stroke-width="2.02" stroke-linecap="round" stroke-linejoin="round" /><polyline points="1,-2 1.5,-9" fill="none" stroke="#000" stroke-width="2.02" stroke-linecap="round" stroke-linejoin="round" /><polyline points="3.5,0 6,-6" fill="none" stroke="#000" stroke-width="2.02" stroke-linecap="round" stroke-linejoin="round" /></g><g transform="translate(104,111) rotate(40)"><ellipse cx="0" cy="2" rx="4.5" ry="5" fill="#000"/><polyline points="-4,-1 -5,-9" fill="none" stroke="#000" stroke-width="2.02" stroke-linecap="round" stroke-linejoin="round" /><polyline points="-1.5,-2 -2,-10" fill="none" stroke="#000" stroke-width="2.02" stroke-linecap="round" stroke-linejoin="round" /><polyline points="1,-2 1.5,-9" fill="none" stroke="#000" stroke-width="2.02" stroke-linecap="round" stroke-linejoin="round" /><polyline points="3.5,0 6,-6" fill="none" stroke="#000" stroke-width="2.02" stroke-linecap="round" stroke-linejoin="round" /></g><ellipse cx="95.8" cy="84.7" rx="13.5" ry="15.5" fill="#D99A5A" stroke="#000" stroke-width="2.36"/><circle cx="96" cy="82" r="1.8399999999999999" fill="#000"/><circle cx="103" cy="84" r="1.8399999999999999" fill="#000"/><path d="M92,92 Q97.0,96 102,92" fill="none" stroke="#000" stroke-width="1.8" stroke-linecap="round" stroke-linejoin="round" />
</g>
<g transform="translate(1440,524)">
<rect x="0" y="0" width="180" height="152" fill="#686868"/>
<rect x="2" y="2" width="176" height="148" fill="url(#g_green)"/>
<text transform="translate(48.50,60) scale(0.9119,1)" font-size="45.10" font-weight="bold" fill="#000">give</text>
<polyline points="62,101 58,128" fill="none" stroke="#000" stroke-width="2.24" stroke-linecap="round" stroke-linejoin="round" /><polyline points="62,106 68,118 80,120" fill="none" stroke="#000" stroke-width="2.24" stroke-linecap="round" stroke-linejoin="round" /><polyline points="115,100 113,114 125,125" fill="none" stroke="#000" stroke-width="2.24" stroke-linecap="round" stroke-linejoin="round" /><polyline points="114,106 120,116 127,118" fill="none" stroke="#000" stroke-width="2.24" stroke-linecap="round" stroke-linejoin="round" /><polyline points="113,114 104,124 110,125" fill="none" stroke="#000" stroke-width="2.24" stroke-linecap="round" stroke-linejoin="round" /><rect x="78.3" y="103" width="26.7" height="23" rx="0" fill="#C82828" stroke="#000" stroke-width="1" /><rect x="89.5" y="103" width="4.5" height="23" rx="0" fill="#F0C020" stroke="none" stroke-width="1" /><rect x="78.3" y="111" width="26.7" height="4" rx="0" fill="#F0C020" stroke="none" stroke-width="1" /><path d="M91.7,103 Q84,94 88,96 Q92,98 91.7,103 Q97,94 96,97 Q95,100 91.7,103" fill="#F0C020" stroke="#806000" stroke-width="0.8" stroke-linecap="round" stroke-linejoin="round" /><ellipse cx="65.7" cy="87.3" rx="12.7" ry="14" fill="#D99A5A" stroke="#000" stroke-width="2.36"/><circle cx="69" cy="84" r="1.7249999999999999" fill="#000"/><path d="M68,92 Q71,95 73,92" fill="none" stroke="#000" stroke-width="1.3" stroke-linecap="round" stroke-linejoin="round" /><ellipse cx="114" cy="86" rx="12.7" ry="14" fill="#D99A5A" stroke="#000" stroke-width="2.36"/><circle cx="109" cy="83" r="1.7249999999999999" fill="#000"/><path d="M105,91 Q108,95 111,92" fill="none" stroke="#000" stroke-width="1.3" stroke-linecap="round" stroke-linejoin="round" />
</g>
<g transform="translate(1620,524)">
<rect x="0" y="0" width="180" height="152" fill="#686868"/>
<rect x="2" y="2" width="176" height="148" fill="url(#g_cyan)"/>
<text transform="translate(43.20,91.7) scale(0.9517,1)" font-size="46.07" font-weight="bold" fill="#000">here</text>
</g>
<g transform="translate(1800,524)">
<rect x="0" y="0" width="180" height="152" fill="#686868"/>
<rect x="2" y="2" width="176" height="148" fill="url(#g_cyan)"/>
<text transform="translate(33.20,91.7) scale(0.9997,1)" font-size="46.07" font-weight="bold" fill="#000">there</text>
</g>
<g transform="translate(1980,524)">
<rect x="0" y="0" width="180" height="152" fill="#686868"/>
<rect x="2" y="2" width="176" height="148" fill="url(#g_white)"/>
<text transform="translate(31.90,42.7) scale(0.9529,1)" font-size="26.76" font-weight="bold" fill="#000">delete wd</text>
<rect x="54.5" y="74.5" width="72.5" height="23.3" rx="0" fill="#303830" stroke="none" stroke-width="1" /><rect x="51.7" y="71.7" width="72.3" height="23.3" rx="0" fill="#00F0F8" stroke="#303030" stroke-width="0.8" /><text x="87.8" y="91.2" font-size="19.5" text-anchor="middle" fill="#1A1A1A" textLength="64" lengthAdjust="spacingAndGlyphs">WORD</text><polyline points="53.3,118.3 121.7,50.7" fill="none" stroke="#D02020" stroke-width="3.36" stroke-linecap="round" stroke-linejoin="round" /><polyline points="55,120 123,52.5" fill="none" stroke="rgba(0,0,0,0.25)" stroke-width="1.12" stroke-linecap="round" stroke-linejoin="round" />
</g>
<g transform="translate(0,676)">
<rect x="0" y="0" width="180" height="152" fill="#686868"/>
<rect x="2" y="2" width="176" height="148" fill="url(#g_yellow)"/>
<text transform="translate(72.50,95) scale(1.0843,1)" font-size="52.83" font-weight="bold" fill="#000">it</text>
</g>
<g transform="translate(180,676)">
<rect x="0" y="0" width="180" height="152" fill="#686868"/>
<rect x="2" y="2" width="176" height="148" fill="url(#g_salmon)"/>
<text transform="translate(54.20,91.7) scale(0.9867,1)" font-size="46.01" font-weight="bold" fill="#000">not</text>
</g>
<g transform="translate(360,676)">
<rect x="0" y="0" width="180" height="152" fill="#686868"/>
<rect x="2" y="2" width="176" height="148" fill="url(#g_white)"/>
<text transform="translate(67.50,92.7) scale(0.9803,1)" font-size="47.55" font-weight="bold" fill="#000">to</text>
</g>
<g transform="translate(540,676)">
<rect x="0" y="0" width="180" height="152" fill="#686868"/>
<rect x="2" y="2" width="176" height="148" fill="url(#g_green)"/>
<text transform="translate(65.20,60) scale(0.9502,1)" font-size="42.12" font-weight="bold" fill="#000">go</text>
<polygon points="53.3,95 105,95 105,82.7 126.7,100.7 105,120 105,107.3 53.3,107.3" fill="#22A244" stroke="#000" stroke-width="1.2" stroke-linejoin="round"/>
</g>
<g transform="translate(720,676)">
<rect x="0" y="0" width="180" height="152" fill="#686868"/>
<rect x="2" y="2" width="176" height="148" fill="url(#g_green)"/>
<text transform="translate(55.90,59.7) scale(1.0137,1)" font-size="44.33" font-weight="bold" fill="#000">get</text>
<rect x="84.2" y="80.8" width="42.5" height="42.5" rx="0" fill="#C00000" stroke="#000" stroke-width="1.6" /><polyline points="53.3,78.3 81.7,86.7" fill="none" stroke="#000" stroke-width="3.36" stroke-linecap="round" stroke-linejoin="round" /><polyline points="52.5,117.5 83.3,122.5" fill="none" stroke="#000" stroke-width="3.36" stroke-linecap="round" stroke-linejoin="round" /><ellipse cx="86" cy="86" rx="5" ry="7" fill="#000"/><polyline points="84,80 93,80" fill="none" stroke="#000" stroke-width="3.36" stroke-linecap="round" stroke-linejoin="round" /><ellipse cx="88" cy="120" rx="6" ry="5" fill="#000"/><polyline points="86,117 92,106" fill="none" stroke="#000" stroke-width="2.8" stroke-linecap="round" stroke-linejoin="round" /><polyline points="89,118 99,110" fill="none" stroke="#000" stroke-width="2.8" stroke-linecap="round" stroke-linejoin="round" /><polyline points="90,120 101,115" fill="none" stroke="#000" stroke-width="2.8" stroke-linecap="round" stroke-linejoin="round" />
</g>
<g transform="translate(900,676)">
<rect x="0" y="0" width="180" height="152" fill="#686868"/>
<rect x="2" y="2" width="176" height="148" fill="url(#g_green)"/>
<text transform="translate(46.70,59.7) scale(0.9200,1)" font-size="45.52" font-weight="bold" fill="#000">help</text>
<polyline points="77.5,83 73,94 63,107 60,124" fill="none" stroke="#000" stroke-width="2.02" stroke-linecap="round" stroke-linejoin="round" /><polyline points="73,94 75,106 73.3,122.5 77,123" fill="none" stroke="#000" stroke-width="2.02" stroke-linecap="round" stroke-linejoin="round" /><polyline points="60,124 58,125" fill="none" stroke="#000" stroke-width="2.02" stroke-linecap="round" stroke-linejoin="round" /><polyline points="76,88 80,95 92,101 98,100 105,108 112,110" fill="none" stroke="#000" stroke-width="2.02" stroke-linecap="round" stroke-linejoin="round" /><polyline points="76,89 88,96 97,99" fill="none" stroke="#000" stroke-width="2.02" stroke-linecap="round" stroke-linejoin="round" /><polyline points="115,110 112,125 100,128 95,131" fill="none" stroke="#000" stroke-width="2.02" stroke-linecap="round" stroke-linejoin="round" /><polyline points="112,125 103,118 96,122 93,121" fill="none" stroke="#000" stroke-width="2.02" stroke-linecap="round" stroke-linejoin="round" /><polyline points="115,110 118,128 121,129" fill="none" stroke="#000" stroke-width="2.02" stroke-linecap="round" stroke-linejoin="round" /><ellipse cx="77.5" cy="75.8" rx="6" ry="7" fill="#D99A5A" stroke="#000" stroke-width="1.89"/><ellipse cx="115.3" cy="103.3" rx="6" ry="7" fill="#D99A5A" stroke="#000" stroke-width="1.89"/>
</g>
<g transform="translate(1080,676)">
<rect x="0" y="0" width="180" height="152" fill="#686868"/>
<rect x="2" y="2" width="176" height="148" fill="url(#g_green)"/>
<text transform="translate(39.50,59.7) scale(0.9242,1)" font-size="45.52" font-weight="bold" fill="#000">hope</text>
<polyline points="89.5,101 89.5,132" fill="none" stroke="#000" stroke-width="2.24" stroke-linecap="round" stroke-linejoin="round" /><polyline points="89,108 82,127 92,118" fill="none" stroke="#000" stroke-width="2.24" stroke-linecap="round" stroke-linejoin="round" /><polyline points="90,108 96,126 106,104" fill="none" stroke="#000" stroke-width="2.24" stroke-linecap="round" stroke-linejoin="round" /><ellipse cx="105" cy="104" rx="2.8" ry="5" fill="#000" transform="rotate(20 105 104)"/><ellipse cx="87.8" cy="85.3" rx="14.3" ry="15.8" fill="#D99A5A" stroke="#000" stroke-width="2.36"/><circle cx="85" cy="79.5" r="1.8399999999999999" fill="#000"/><circle cx="92.5" cy="77.5" r="1.8399999999999999" fill="#000"/><path d="M85,91 Q91.0,94.6 97,91" fill="none" stroke="#000" stroke-width="1.8" stroke-linecap="round" stroke-linejoin="round" />
</g>
<g transform="translate(1260,676)">
<rect x="0" y="0" width="180" height="152" fill="#686868"/>
<rect x="2" y="2" width="176" height="148" fill="url(#g_green)"/>
<text transform="translate(47.90,59.7) scale(0.9516,1)" font-size="45.52" font-weight="bold" fill="#000">hurt</text>
<polyline points="75,117 74.5,132" fill="none" stroke="#000" stroke-width="2.46" stroke-linecap="round" stroke-linejoin="round" /><polyline points="76,120 96,114 104,115" fill="none" stroke="#000" stroke-width="2.46" stroke-linecap="round" stroke-linejoin="round" /><g transform="translate(105,118) rotate(20)"><ellipse cx="0" cy="0" rx="7" ry="4.5" fill="#000"/><polyline points="3,2 9,7" fill="none" stroke="#000" stroke-width="2.8" stroke-linecap="round" stroke-linejoin="round" /><polyline points="0,3 5,9" fill="none" stroke="#000" stroke-width="2.8" stroke-linecap="round" stroke-linejoin="round" /><polyline points="-3,3 0,9" fill="none" stroke="#000" stroke-width="2.8" stroke-linecap="round" stroke-linejoin="round" /></g><rect x="96" y="112" width="9" height="3" rx="0" fill="#E8A060" stroke="none" stroke-width="1" transform="rotate(-20 100 113)"/><ellipse cx="73.7" cy="94.2" rx="20.5" ry="23" fill="#D99A5A" stroke="#000" stroke-width="2.60"/><circle cx="69" cy="90" r="2.3" fill="#000"/><circle cx="80" cy="90" r="2.3" fill="#000"/><path d="M64,85 Q67,80 70,83" fill="none" stroke="#000" stroke-width="1.6" stroke-linecap="round" stroke-linejoin="round" /><path d="M78,83 Q81,80 84,85" fill="none" stroke="#000" stroke-width="1.6" stroke-linecap="round" stroke-linejoin="round" /><ellipse cx="74" cy="105.5" rx="5" ry="4.5" fill="#000"/><path d="M100,71.7 L123,71.7 Q126.7,71.7 126.7,75 L126.7,89 Q126.7,92.5 123,92.5 L110,92.5 L97,97 L102,92.5 Q97.5,92.5 97.5,89 L97.5,75 Q97.5,71.7 100,71.7 Z" fill="#F4F4F4" stroke="#888" stroke-width="1" stroke-linecap="round" stroke-linejoin="round" /><text x="112" y="86" font-size="8.5" font-weight="bold" text-anchor="middle" fill="#000">OW!</text>
</g>
<g transform="translate(1440,676)">
<rect x="0" y="0" width="180" height="152" fill="#686868"/>
<rect x="2" y="2" width="176" height="148" fill="url(#g_green)"/>
<text transform="translate(35.90,60) scale(0.9326,1)" font-size="45.10" font-weight="bold" fill="#000">know</text>
<rect x="75" y="110.7" width="31" height="17.6" rx="0" fill="#505050" stroke="#202020" stroke-width="0.6" /><rect x="71.7" y="106.7" width="36.6" height="4" rx="0" fill="#606060" stroke="#202020" stroke-width="0.6" /><rect x="75" y="128" width="3" height="4.7" rx="0" fill="#505050" stroke="none" stroke-width="1" /><rect x="103" y="128" width="3" height="4.7" rx="0" fill="#505050" stroke="none" stroke-width="1" /><polygon points="83,92 100,92 103,99 101,101 100,106.7 83,106.7" fill="#D82020" stroke="#000" stroke-width="0.8" stroke-linejoin="round"/><polyline points="83,94 78,80 76.7,72" fill="none" stroke="#000" stroke-width="2.24" stroke-linecap="round" stroke-linejoin="round" /><polyline points="76.7,72 74,68" fill="none" stroke="#000" stroke-width="1.46" stroke-linecap="round" stroke-linejoin="round" /><polyline points="76.7,72 77,67" fill="none" stroke="#000" stroke-width="1.46" stroke-linecap="round" stroke-linejoin="round" /><polyline points="76.7,72 80,68" fill="none" stroke="#000" stroke-width="1.46" stroke-linecap="round" stroke-linejoin="round" /><ellipse cx="92.3" cy="81.7" rx="8.5" ry="9" fill="#D99A5A" stroke="#000" stroke-width="1.89"/><circle cx="91" cy="80" r="1.265" fill="#000"/><circle cx="95" cy="80" r="1.265" fill="#000"/><path d="M90,85 Q93.0,87 96,85" fill="none" stroke="#000" stroke-width="1.2" stroke-linecap="round" stroke-linejoin="round" />
</g>
<g transform="translate(1620,676)">
<rect x="0" y="0" width="180" height="152" fill="#686868"/>
<rect x="2" y="2" width="176" height="148" fill="url(#g_cyan)"/>
<text transform="translate(28.50,91.7) scale(0.9697,1)" font-size="46.07" font-weight="bold" fill="#000">about</text>
</g>
<g transform="translate(1800,676)">
<rect x="0" y="0" width="180" height="152" fill="#686868"/>
<rect x="2" y="2" width="176" height="148" fill="url(#g_lcyan)"/>
<text transform="translate(58.50,68.3) scale(0.9427,1)" font-size="44.55" font-weight="bold" fill="#000">be-</text>
<text transform="translate(34.20,115) scale(0.9025,1)" font-size="43.23" font-weight="bold" fill="#000">cause</text>
</g>
<g transform="translate(1980,676)">
<rect x="0" y="0" width="180" height="152" fill="#000000"/>
<rect x="2" y="2" width="176" height="148" fill="url(#g_white)"/>
<circle cx="89.3" cy="98.3" r="7" fill="#000"/>
</g>
<g transform="translate(0,828)">
<rect x="0" y="0" width="180" height="152" fill="#686868"/>
<rect x="2" y="2" width="176" height="148" fill="url(#g_yellow)"/>
<text transform="translate(61.50,95) scale(0.9181,1)" font-size="52.83" font-weight="bold" fill="#000">he</text>
</g>
<g transform="translate(180,828)">
<rect x="0" y="0" width="180" height="152" fill="#6E6830"/>
<rect x="2" y="2" width="176" height="148" fill="url(#g_lgreen)"/>
<text transform="translate(73.20,91.7) scale(0.8485,1)" font-size="46.07" font-weight="bold" fill="#000">is</text>
</g>
<g transform="translate(360,828)">
<rect x="0" y="0" width="180" height="152" fill="#686868"/>
<rect x="2" y="2" width="176" height="148" fill="url(#g_green)"/>
<text transform="translate(64.20,91.7) scale(0.9282,1)" font-size="46.07" font-weight="bold" fill="#000">be</text>
</g>
<g transform="translate(540,828)">
<rect x="0" y="0" width="180" height="152" fill="#686868"/>
<rect x="2" y="2" width="176" height="148" fill="url(#g_green)"/>
<text transform="translate(53.20,60) scale(0.9650,1)" font-size="45.10" font-weight="bold" fill="#000">like</text>
<ellipse cx="89.3" cy="100.7" rx="26.3" ry="29.5" fill="#D99A5A" stroke="#000" stroke-width="2.60"/><circle cx="80.7" cy="92.7" r="4.6" fill="#FFF" stroke="#000" stroke-width="1.6"/><circle cx="98.3" cy="90.7" r="4.6" fill="#FFF" stroke="#000" stroke-width="1.6"/><circle cx="81.5" cy="93.5" r="2.3" fill="#000"/><circle cx="99" cy="91.5" r="2.3" fill="#000"/><path d="M79,109 Q91,122 102,107" fill="none" stroke="#000" stroke-width="2.6" stroke-linecap="round" stroke-linejoin="round" />
</g>
<g transform="translate(720,828)">
<rect x="0" y="0" width="180" height="152" fill="#686868"/>
<rect x="2" y="2" width="176" height="148" fill="url(#g_green)"/>
<text transform="translate(34.50,59.2) scale(0.9360,1)" font-size="44.83" font-weight="bold" fill="#000">listen</text>
<path d="M54.0,94 Q56.4,98 54.0,102" fill="none" stroke="#A0A0A0" stroke-width="1.2" stroke-linecap="round" stroke-linejoin="round" /><path d="M56.0,90 Q60.8,98 56.0,106" fill="none" stroke="#A0A0A0" stroke-width="1.2" stroke-linecap="round" stroke-linejoin="round" /><path d="M58.0,86 Q65.2,98 58.0,110" fill="none" stroke="#A0A0A0" stroke-width="1.2" stroke-linecap="round" stroke-linejoin="round" /><path d="M60.0,82 Q69.6,98 60.0,114" fill="none" stroke="#A0A0A0" stroke-width="1.2" stroke-linecap="round" stroke-linejoin="round" /><path d="M86,90 Q78,86 75,93 Q74,102 82,108" fill="#D99A5A" stroke="#000" stroke-width="2.2" stroke-linecap="round" stroke-linejoin="round" /><ellipse cx="103.3" cy="100.8" rx="22" ry="26.7" fill="#D99A5A" stroke="#000" stroke-width="2.60"/><path d="M84,95 Q79,93 79,100 Q80,104 84,103" fill="none" stroke="#000" stroke-width="1.3" stroke-linecap="round" stroke-linejoin="round" /><circle cx="98.5" cy="96" r="2.415" fill="#000"/><circle cx="113.5" cy="96" r="2.415" fill="#000"/><path d="M97,111 Q105.5,116.2 114,111" fill="none" stroke="#000" stroke-width="1.8" stroke-linecap="round" stroke-linejoin="round" />
</g>
<g transform="translate(900,828)">
<rect x="0" y="0" width="180" height="152" fill="#686868"/>
<rect x="2" y="2" width="176" height="148" fill="url(#g_green)"/>
<text transform="translate(45.50,59.7) scale(0.9554,1)" font-size="45.52" font-weight="bold" fill="#000">look</text>
<ellipse cx="75.8" cy="101.3" rx="21.7" ry="25.5" fill="#ECC8A8" stroke="#788078" stroke-width="3.07"/><path d="M67,96.5 L73,93 L77,96.5 L73,100 Z" fill="#FFF" stroke="#000" stroke-width="1" stroke-linecap="round" stroke-linejoin="round" /><circle cx="74.5" cy="96.5" r="2.9899999999999998" fill="#000"/><path d="M82,96.5 L88,93 L92,96.5 L88,100 Z" fill="#FFF" stroke="#000" stroke-width="1" stroke-linecap="round" stroke-linejoin="round" /><circle cx="89.5" cy="96.5" r="2.9899999999999998" fill="#000"/><polyline points="100,95.8 125,95.8" fill="none" stroke="#000" stroke-width="2.02" stroke-linecap="round" stroke-linejoin="round" stroke-dasharray="2.5,2"/><path d="M68,112 Q77,121 85,112" fill="none" stroke="#788078" stroke-width="2" stroke-linecap="round" stroke-linejoin="round" />
</g>
<g transform="translate(1080,828)">
<rect x="0" y="0" width="180" height="152" fill="#686868"/>
<rect x="2" y="2" width="176" height="148" fill="url(#g_green)"/>
<text transform="translate(47.90,59.7) scale(0.9190,1)" font-size="45.52" font-weight="bold" fill="#000">love</text>
<path d="M90,88 C86,76 78,70 71,70 C62,70 57.5,78 57.5,86 C57.5,100 75,115 90,131.7 C105,115 122.5,100 122.5,86 C122.5,78 118,70 109,70 C102,70 94,76 90,88 Z" fill="#C8242C" stroke="#000" stroke-width="1.6" stroke-linecap="round" stroke-linejoin="round" />
</g>
<g transform="translate(1260,828)">
<rect x="0" y="0" width="180" height="152" fill="#686868"/>
<rect x="2" y="2" width="176" height="148" fill="url(#g_green)"/>
<text transform="translate(36.70,59.7) scale(0.9087,1)" font-size="45.52" font-weight="bold" fill="#000">make</text>
<rect x="103.3" y="93.3" width="22" height="35.4" rx="0" fill="#C00000" stroke="#000" stroke-width="1" /><polyline points="63.7,100.8 60.8,129.2" fill="none" stroke="#000" stroke-width="2.24" stroke-linecap="round" stroke-linejoin="round" /><polyline points="64,106 72,116 86.7,118.3" fill="none" stroke="#000" stroke-width="2.24" stroke-linecap="round" stroke-linejoin="round" /><polyline points="90,101.7 94.2,128.3" fill="none" stroke="#E08A20" stroke-width="2.69" stroke-linecap="round" stroke-linejoin="round" /><polygon points="81.7,101 95,98 96,102 84,104" fill="#303030" stroke="#000" stroke-width="0.8" stroke-linejoin="round"/><ellipse cx="89" cy="118" rx="4" ry="5" fill="#000"/><polyline points="98,100 103,100" fill="none" stroke="#000" stroke-width="1.12" stroke-linecap="round" stroke-linejoin="round" /><ellipse cx="66.7" cy="87" rx="12.3" ry="14" fill="#D99A5A" stroke="#000" stroke-width="2.36"/><circle cx="70" cy="84" r="1.7249999999999999" fill="#000"/><path d="M68,92 Q71,95 73,92" fill="none" stroke="#000" stroke-width="1.3" stroke-linecap="round" stroke-linejoin="round" />
</g>
<g transform="translate(1440,828)">
<rect x="0" y="0" width="180" height="152" fill="#686868"/>
<rect x="2" y="2" width="176" height="148" fill="url(#g_lcyan)"/>
<text transform="translate(68.50,91.7) scale(1.1200,1)" font-size="42.48" font-weight="bold" fill="#000">at</text>
</g>
<g transform="translate(1620,828)">
<rect x="0" y="0" width="180" height="152" fill="#686868"/>
<rect x="2" y="2" width="176" height="148" fill="url(#g_lcyan)"/>
<text transform="translate(51.90,91.7) scale(0.9022,1)" font-size="46.07" font-weight="bold" fill="#000">and</text>
</g>
<g transform="translate(1800,828)">
<rect x="0" y="0" width="180" height="152" fill="#686868"/>
<rect x="2" y="2" width="176" height="148" fill="url(#g_lpink2)"/>
<text transform="translate(77.50,92.7) scale(0.9125,1)" font-size="45.35" font-weight="bold" fill="#000">a</text>
</g>
<g transform="translate(1980,828)">
<rect x="0" y="0" width="180" height="152" fill="#686868"/>
<rect x="2" y="2" width="176" height="148" fill="url(#g_lpink2)"/>
<text transform="translate(55.20,91.7) scale(0.9884,1)" font-size="46.07" font-weight="bold" fill="#000">the</text>
</g>
<g transform="translate(0,980)">
<rect x="0" y="0" width="180" height="152" fill="#686868"/>
<rect x="2" y="2" width="176" height="148" fill="url(#g_yellow)"/>
<text transform="translate(49.20,95) scale(0.8888,1)" font-size="52.83" font-weight="bold" fill="#000">she</text>
</g>
<g transform="translate(180,980)">
<rect x="0" y="0" width="180" height="152" fill="#6E6830"/>
<rect x="2" y="2" width="176" height="148" fill="url(#g_lgreen)"/>
<text transform="translate(55.90,91.7) scale(0.9566,1)" font-size="46.38" font-weight="bold" fill="#000">are</text>
</g>
<g transform="translate(360,980)">
<rect x="0" y="0" width="180" height="152" fill="#6E6830"/>
<rect x="2" y="2" width="176" height="148" fill="url(#g_lgreen)"/>
<text transform="translate(50.02,91.7) scale(0.8906,1)" font-size="46.38" font-weight="bold" fill="#000">was</text>
</g>
<g transform="translate(540,980)">
<rect x="0" y="0" width="180" height="152" fill="#686868"/>
<rect x="2" y="2" width="176" height="148" fill="url(#g_lgreen2)"/>
<text transform="translate(57.50,91.7) scale(0.9160,1)" font-size="46.07" font-weight="bold" fill="#000">did</text>
</g>
<g transform="translate(720,980)">
<rect x="0" y="0" width="180" height="152" fill="#686868"/>
<rect x="2" y="2" width="176" height="148" fill="url(#g_green)"/>
<text transform="translate(40.90,59.7) scale(0.9168,1)" font-size="45.52" font-weight="bold" fill="#000">need</text>
<rect x="97.5" y="89.2" width="28.3" height="28.3" rx="0" fill="#C00000" stroke="#000" stroke-width="1" /><polyline points="55,85.8 78.3,90.8" fill="none" stroke="#000" stroke-width="2.91" stroke-linecap="round" stroke-linejoin="round" /><polyline points="78,90.5 92,87" fill="none" stroke="#000" stroke-width="2.24" stroke-linecap="round" stroke-linejoin="round" /><polyline points="78,90.5 92,95" fill="none" stroke="#000" stroke-width="2.24" stroke-linecap="round" stroke-linejoin="round" /><polyline points="78,90.5 87,82" fill="none" stroke="#000" stroke-width="2.24" stroke-linecap="round" stroke-linejoin="round" /><polyline points="78,90.5 88,99" fill="none" stroke="#000" stroke-width="2.24" stroke-linecap="round" stroke-linejoin="round" /><polyline points="53.3,108.7 78.3,116.7" fill="none" stroke="#000" stroke-width="2.91" stroke-linecap="round" stroke-linejoin="round" /><polyline points="78,116 89,115" fill="none" stroke="#000" stroke-width="2.24" stroke-linecap="round" stroke-linejoin="round" /><polyline points="78,116 87,111" fill="none" stroke="#000" stroke-width="2.24" stroke-linecap="round" stroke-linejoin="round" /><polyline points="78,116 85,104" fill="none" stroke="#000" stroke-width="2.24" stroke-linecap="round" stroke-linejoin="round" /><ellipse cx="79" cy="115" rx="3" ry="2.5" fill="#000"/>
</g>
<g transform="translate(900,980)">
<rect x="0" y="0" width="180" height="152" fill="#686868"/>
<rect x="2" y="2" width="176" height="148" fill="url(#g_green)"/>
<text transform="translate(38.90,59.7) scale(1.0121,1)" font-size="41.11" font-weight="bold" fill="#000">open</text>
<rect x="57.5" y="104.7" width="65.5" height="28.3" rx="0" fill="#C0282C" stroke="#000" stroke-width="2.6" /><polyline points="66.7,69.7 123,104.7" fill="none" stroke="#000" stroke-width="2.02" stroke-linecap="round" stroke-linejoin="round" /><path d="M66.3,100 Q64,88 72,81" fill="none" stroke="#000" stroke-width="1.8" stroke-linecap="round" stroke-linejoin="round" /><polygon points="74.5,78.5 68.5,80.5 73,85" fill="#000" stroke="#000" stroke-width="0.8" stroke-linejoin="round"/>
</g>
<g transform="translate(1080,980)">
<rect x="0" y="0" width="180" height="152" fill="#686868"/>
<rect x="2" y="2" width="176" height="148" fill="url(#g_green)"/>
<text transform="translate(47.90,59.7) scale(0.9289,1)" font-size="45.52" font-weight="bold" fill="#000">play</text>
<polygon points="66.3,118.3 124.7,119.7 127.5,133.3 53.3,133.3" fill="#A0A0A0" stroke="none" stroke-width="1.0" stroke-linejoin="round"/><polyline points="90,97 90,118" fill="none" stroke="#000" stroke-width="2.24" stroke-linecap="round" stroke-linejoin="round" /><polyline points="90,100 72,105 80,113" fill="none" stroke="#000" stroke-width="2.24" stroke-linecap="round" stroke-linejoin="round" /><polyline points="90,100 96,108" fill="none" stroke="#000" stroke-width="2.24" stroke-linecap="round" stroke-linejoin="round" /><circle cx="82" cy="111" r="4.5" fill="#D02020" stroke="#000" stroke-width="1"/><rect x="94.2" y="108" width="28.3" height="24.5" rx="0" fill="#F4E090" stroke="#303030" stroke-width="0.8" /><polyline points="108,108 108,132.5" fill="none" stroke="#505050" stroke-width="0.9" stroke-linecap="round" stroke-linejoin="round" /><circle cx="100" cy="116" r="2" fill="#D08020"/><circle cx="115" cy="117" r="2.2" fill="#D08020"/><circle cx="102" cy="125" r="2" fill="#40A040"/><circle cx="117" cy="126" r="2" fill="#D08020"/><rect x="70.5" y="118" width="5" height="8" rx="0" fill="#2050C8" stroke="#000" stroke-width="0.6" /><rect x="80.5" y="122" width="6" height="8" rx="0" fill="#C02020" stroke="#000" stroke-width="0.6" /><ellipse cx="92" cy="82.8" rx="12.3" ry="13.8" fill="#D99A5A" stroke="#000" stroke-width="2.36"/><circle cx="89" cy="80" r="1.7249999999999999" fill="#000"/><circle cx="96" cy="80" r="1.7249999999999999" fill="#000"/><path d="M87,87 Q91.5,90.6 96,87" fill="none" stroke="#000" stroke-width="1.8" stroke-linecap="round" stroke-linejoin="round" />
</g>
<g transform="translate(1260,980)">
<rect x="0" y="0" width="180" height="152" fill="#686868"/>
<rect x="2" y="2" width="176" height="148" fill="url(#g_green)"/>
<text transform="translate(55.90,59.7) scale(0.9895,1)" font-size="44.33" font-weight="bold" fill="#000">put</text>
<rect x="75.8" y="128" width="49.2" height="4.5" rx="0" fill="#A8A8A8" stroke="none" stroke-width="1" /><polyline points="61.7,100 59.2,129.2" fill="none" stroke="#000" stroke-width="2.24" stroke-linecap="round" stroke-linejoin="round" /><polyline points="62,107 71,119 82,119" fill="none" stroke="#000" stroke-width="2.24" stroke-linecap="round" stroke-linejoin="round" /><rect x="76" y="98" width="20" height="20" fill="#C00000" stroke="#000" stroke-width="1" transform="rotate(-22 86 108)"/><ellipse cx="84" cy="116" rx="4" ry="4" fill="#000"/><polyline points="84,114 90,110" fill="none" stroke="#000" stroke-width="2.02" stroke-linecap="round" stroke-linejoin="round" /><path d="M100,113.3 Q106,116 105.3,123" fill="none" stroke="#000" stroke-width="1.2" stroke-linecap="round" stroke-linejoin="round" /><polygon points="102.5,122 108,122 105.3,126" fill="#000" stroke="#000" stroke-width="0.5" stroke-linejoin="round"/><ellipse cx="67.8" cy="84.7" rx="13.5" ry="15.5" fill="#D99A5A" stroke="#000" stroke-width="2.36"/><circle cx="73" cy="81.5" r="1.8399999999999999" fill="#000"/><path d="M70,91 Q72,96 75,93" fill="none" stroke="#000" stroke-width="1.3" stroke-linecap="round" stroke-linejoin="round" />
</g>
<g transform="translate(1440,980)">
<rect x="0" y="0" width="180" height="152" fill="#686868"/>
<rect x="2" y="2" width="176" height="148" fill="url(#g_lcyan)"/>
<text transform="translate(59.20,91.7) scale(1.0145,1)" font-size="46.07" font-weight="bold" fill="#000">for</text>
</g>
<g transform="translate(1620,980)">
<rect x="0" y="0" width="180" height="152" fill="#686868"/>
<rect x="2" y="2" width="176" height="148" fill="url(#g_lcyan)"/>
<text transform="translate(71.50,91.7) scale(0.8619,1)" font-size="46.07" font-weight="bold" fill="#000">in</text>
</g>
<g transform="translate(1800,980)">
<rect x="0" y="0" width="180" height="152" fill="#686868"/>
<rect x="2" y="2" width="176" height="148" fill="url(#g_lcyan)"/>
<text transform="translate(64.20,92.7) scale(0.8465,1)" font-size="48.24" font-weight="bold" fill="#000">on</text>
</g>
<g transform="translate(1980,980)">
<rect x="0" y="0" width="180" height="152" fill="#686868"/>
<rect x="2" y="2" width="176" height="148" fill="url(#g_lpink2)"/>
<text transform="translate(45.90,91.7) scale(1.0445,1)" font-size="46.07" font-weight="bold" fill="#000">that</text>
</g>
<g transform="translate(0,1132)">
<rect x="0" y="0" width="180" height="152" fill="#686868"/>
<rect x="2" y="2" width="176" height="148" fill="url(#g_yellow)"/>
<text transform="translate(36.50,95) scale(0.9851,1)" font-size="52.83" font-weight="bold" fill="#000">they</text>
</g>
<g transform="translate(180,1132)">
<rect x="0" y="0" width="180" height="152" fill="#6E6830"/>
<rect x="2" y="2" width="176" height="148" fill="url(#g_lgreen)"/>
<text transform="translate(55.20,91.7) scale(0.8546,1)" font-size="46.38" font-weight="bold" fill="#000">can</text>
</g>
<g transform="translate(360,1132)">
<rect x="0" y="0" width="180" height="152" fill="#6E6830"/>
<rect x="2" y="2" width="176" height="148" fill="url(#g_lgreen)"/>
<text transform="translate(33.20,91.7) scale(0.9083,1)" font-size="46.07" font-weight="bold" fill="#000">could</text>
</g>
<g transform="translate(540,1132)">
<rect x="0" y="0" width="180" height="152" fill="#686868"/>
<rect x="2" y="2" width="176" height="148" fill="url(#g_lgreen2)"/>
<text transform="translate(41.90,91.7) scale(0.9106,1)" font-size="46.07" font-weight="bold" fill="#000">have</text>
</g>
<g transform="translate(720,1132)">
<rect x="0" y="0" width="180" height="152" fill="#686868"/>
<rect x="2" y="2" width="176" height="148" fill="url(#g_green)"/>
<text transform="translate(44.50,59.7) scale(0.9320,1)" font-size="45.52" font-weight="bold" fill="#000">read</text>
<polygon points="62.5,74.2 86.7,88 86.7,130.8 62.5,116.7" fill="#C8282C" stroke="#000" stroke-width="1.2" stroke-linejoin="round"/><polygon points="117.5,74.2 93.3,88 93.3,130.8 117.5,116.7" fill="#C8282C" stroke="#000" stroke-width="1.2" stroke-linejoin="round"/><polygon points="86.7,88 93.3,88 93.3,130.8 90,131.5 86.7,130.8" fill="#C8282C" stroke="#000" stroke-width="1.2" stroke-linejoin="round"/><path d="M63,74 Q75,72 90,86 Q105,72 117,74 L115,71.5 Q104,70 90,83 Q76,70 65,71.5 Z" fill="#FFFFFF" stroke="#000" stroke-width="0.9" stroke-linecap="round" stroke-linejoin="round" /><path d="M66,72.5 Q76,71 90,84.5 Q104,71 114,72.5" fill="none" stroke="#888" stroke-width="0.6" stroke-linecap="round" stroke-linejoin="round" />
</g>
<g transform="translate(900,1132)">
<rect x="0" y="0" width="180" height="152" fill="#686868"/>
<rect x="2" y="2" width="176" height="148" fill="url(#g_green)"/>
<text transform="translate(50.50,59.7) scale(0.9320,1)" font-size="45.52" font-weight="bold" fill="#000">ride</text>
<circle cx="72.5" cy="121.7" r="12" fill="none" stroke="#D8C0C8" stroke-width="1.3"/><circle cx="108.3" cy="121.7" r="12" fill="none" stroke="#D8C0C8" stroke-width="1.3"/><polyline points="72.5,121.7 85,105 105,105 108.3,121.7" fill="none" stroke="#D0B8C0" stroke-width="1.12" stroke-linecap="round" stroke-linejoin="round" /><polyline points="85,105 88,122 108,105" fill="none" stroke="#D0B8C0" stroke-width="1.12" stroke-linecap="round" stroke-linejoin="round" /><polygon points="80,93 92,87 97,92 94,99 83,99" fill="#7CC040" stroke="#000" stroke-width="0.8" stroke-linejoin="round"/><polyline points="95,92 105,98 110,104" fill="none" stroke="#000" stroke-width="2.02" stroke-linecap="round" stroke-linejoin="round" /><polygon points="80,98 92,98 94,104 88,107 82,107" fill="#F08020" stroke="#000" stroke-width="0.8" stroke-linejoin="round"/><polyline points="86,105 87,115 88,122" fill="none" stroke="#555" stroke-width="2.69" stroke-linecap="round" stroke-linejoin="round" /><polyline points="90,104 96,110 92,120" fill="none" stroke="#000" stroke-width="2.24" stroke-linecap="round" stroke-linejoin="round" /><ellipse cx="90.5" cy="77.5" rx="5" ry="6" fill="#C89060" stroke="#000" stroke-width="0.8"/><path d="M83,74 Q84,66 91.7,66 Q100,66 100,74 Z" fill="#F06820" stroke="#803010" stroke-width="0.8" stroke-linecap="round" stroke-linejoin="round" />
</g>
<g transform="translate(1080,1132)">
<rect x="0" y="0" width="180" height="152" fill="#686868"/>
<rect x="2" y="2" width="176" height="148" fill="url(#g_green)"/>
<text transform="translate(56.70,59.7) scale(0.9552,1)" font-size="42.12" font-weight="bold" fill="#000">say</text>
<ellipse cx="78" cy="101.2" rx="24" ry="27" fill="#D99A5A" stroke="#000" stroke-width="2.60"/><circle cx="77" cy="95.8" r="2.415" fill="#000"/><circle cx="90" cy="92" r="2.415" fill="#000"/><path d="M76,108 Q86,105 95,104 Q96,116 87,119 Q79,119 76,108 Z" fill="#F4E8EC" stroke="#000" stroke-width="2" stroke-linecap="round" stroke-linejoin="round" /><path d="M109.0,100 Q111.4,104 109.0,108" fill="none" stroke="#909090" stroke-width="1.2" stroke-linecap="round" stroke-linejoin="round" /><path d="M111.0,96 Q115.8,104 111.0,112" fill="none" stroke="#909090" stroke-width="1.2" stroke-linecap="round" stroke-linejoin="round" /><path d="M113.0,92 Q120.2,104 113.0,116" fill="none" stroke="#909090" stroke-width="1.2" stroke-linecap="round" stroke-linejoin="round" /><path d="M115.0,88 Q124.6,104 115.0,120" fill="none" stroke="#909090" stroke-width="1.2" stroke-linecap="round" stroke-linejoin="round" />
</g>
<g transform="translate(1260,1132)">
<rect x="0" y="0" width="180" height="152" fill="#686868"/>
<rect x="2" y="2" width="176" height="148" fill="url(#g_green)"/>
<text transform="translate(54.50,59.7) scale(0.9865,1)" font-size="42.12" font-weight="bold" fill="#000">see</text>
<path d="M52,104 Q60,86 86,81 Q112,80 128,98 Q116,88 100,86.5 L80,87 Q62,91 52,104 Z" fill="#D8A880" stroke="#C09070" stroke-width="0.8" stroke-linecap="round" stroke-linejoin="round" /><clipPath id="eyeclip"><path d="M54,105 Q64,89.5 88,88.5 Q112,88.5 123,99 Q113,116 92,120 Q70,121 54,105 Z"/></clipPath><path d="M54,105 Q64,89.5 88,88.5 Q112,88.5 123,99 Q113,116 92,120 Q70,121 54,105 Z" fill="#F2F2F6" stroke="#000" stroke-width="0.9" stroke-linecap="round" stroke-linejoin="round" /><g clip-path="url(#eyeclip)"><circle cx="88.7" cy="101.5" r="15.8" fill="#504030" stroke="#302010" stroke-width="0.8"/><circle cx="88.7" cy="100.5" r="6.5" fill="#000"/><circle cx="84.5" cy="97" r="2.3" fill="#FFF"/></g><path d="M54,105 Q64,89.5 88,88.5 Q112,88.5 123,99" fill="none" stroke="#303030" stroke-width="2.4" stroke-linecap="round" stroke-linejoin="round" /><path d="M56,108 Q60,112 66,113" fill="none" stroke="#E0A080" stroke-width="2" stroke-linecap="round" stroke-linejoin="round" />
</g>
<g transform="translate(1440,1132)">
<rect x="0" y="0" width="180" height="152" fill="#686868"/>
<rect x="2" y="2" width="176" height="148" fill="url(#g_green)"/>
<text transform="translate(37.50,60) scale(0.9014,1)" font-size="45.10" font-weight="bold" fill="#000">show</text>
<polyline points="68.3,100 64,116 60.7,130" fill="none" stroke="#000" stroke-width="2.24" stroke-linecap="round" stroke-linejoin="round" /><polyline points="66,110 67.7,131.7" fill="none" stroke="#000" stroke-width="2.24" stroke-linecap="round" stroke-linejoin="round" /><polyline points="66,108 70.7,115 95,100" fill="none" stroke="#000" stroke-width="2.24" stroke-linecap="round" stroke-linejoin="round" /><rect x="95" y="87.3" width="30" height="27" rx="0" fill="#FFFFFF" stroke="#000" stroke-width="1" /><circle cx="110" cy="100.5" r="10" fill="#F4E060" stroke="#907010" stroke-width="0.8"/><circle cx="110" cy="100.5" r="3" fill="#E8A010"/><ellipse cx="70" cy="84" rx="13.5" ry="15" fill="#D99A5A" stroke="#000" stroke-width="2.36"/><circle cx="71" cy="81" r="1.7249999999999999" fill="#000"/><circle cx="77" cy="80" r="1.7249999999999999" fill="#000"/><path d="M68,90 Q72.5,93.2 77,89" fill="none" stroke="#000" stroke-width="1.8" stroke-linecap="round" stroke-linejoin="round" />
</g>
<g transform="translate(1620,1132)">
<rect x="0" y="0" width="180" height="152" fill="#686868"/>
<rect x="2" y="2" width="176" height="148" fill="url(#g_lcyan)"/>
<text transform="translate(68.50,91.7) scale(1.0326,1)" font-size="46.07" font-weight="bold" fill="#000">of</text>
</g>
<g transform="translate(1800,1132)">
<rect x="0" y="0" width="180" height="152" fill="#686868"/>
<rect x="2" y="2" width="176" height="148" fill="url(#g_lcyan)"/>
<text transform="translate(59.20,91.7) scale(1.0573,1)" font-size="46.07" font-weight="bold" fill="#000">off</text>
</g>
<g transform="translate(1980,1132)">
<rect x="0" y="0" width="180" height="152" fill="#686868"/>
<rect x="2" y="2" width="176" height="148" fill="url(#g_lpink2)"/>
<text transform="translate(50.90,91.7) scale(0.9474,1)" font-size="46.07" font-weight="bold" fill="#000">this</text>
</g>
<g transform="translate(0,1284)">
<rect x="0" y="0" width="180" height="152" fill="#686868"/>
<rect x="2" y="2" width="176" height="148" fill="url(#g_yellow)"/>
<text transform="translate(56.65,95) scale(0.9384,1)" font-size="52.60" font-weight="bold" fill="#000">we</text>
</g>
<g transform="translate(180,1284)">
<rect x="0" y="0" width="180" height="152" fill="#6E6830"/>
<rect x="2" y="2" width="176" height="148" fill="url(#g_lgreen)"/>
<text transform="translate(64.20,91.7) scale(0.8988,1)" font-size="46.07" font-weight="bold" fill="#000">do</text>
</g>
<g transform="translate(360,1284)">
<rect x="0" y="0" width="180" height="152" fill="#6E6830"/>
<rect x="2" y="2" width="176" height="148" fill="url(#g_lgreen)"/>
<text transform="translate(52.04,91.7) scale(1.0167,1)" font-size="46.07" font-weight="bold" fill="#000">will</text>
</g>
<g transform="translate(540,1284)">
<rect x="0" y="0" width="180" height="152" fill="#6E6830"/>
<rect x="2" y="2" width="176" height="148" fill="url(#g_lgreen)"/>
<text transform="translate(26.03,91.7) scale(0.9378,1)" font-size="46.07" font-weight="bold" fill="#000">would</text>
</g>
<g transform="translate(720,1284)">
<rect x="0" y="0" width="180" height="152" fill="#686868"/>
<rect x="2" y="2" width="176" height="148" fill="url(#g_green)"/>
<text transform="translate(45.00,59.7) scale(0.9490,1)" font-size="44.33" font-weight="bold" fill="#000">stop</text>
<polygon points="75.8,69.2 103.2,69.2 121.3,87.5 121.3,114.2 103.2,132.5 75.8,132.5 57.5,114.2 57.5,87.5" fill="#C0242C" stroke="#000" stroke-width="0.8"/><polygon points="76.5,71 102.5,71 119.5,88.2 119.5,113.5 102.5,130.7 76.5,130.7 59.3,113.5 59.3,88.2" fill="none" stroke="#FFF" stroke-width="1.2"/>
<text transform="translate(61.70,112.5) scale(0.6548,1)" font-size="32.23" font-weight="bold" fill="#FFFFFF">STOP</text>
</g>
<g transform="translate(900,1284)">
<rect x="0" y="0" width="180" height="152" fill="#686868"/>
<rect x="2" y="2" width="176" height="148" fill="url(#g_green)"/>
<text transform="translate(45.50,59.7) scale(0.9695,1)" font-size="45.52" font-weight="bold" fill="#000">take</text>
<polyline points="113.3,100.8 120.8,132.5" fill="none" stroke="#000" stroke-width="2.24" stroke-linecap="round" stroke-linejoin="round" /><polyline points="113,107 104,124 92,122" fill="none" stroke="#000" stroke-width="2.24" stroke-linecap="round" stroke-linejoin="round" /><polyline points="112,110 100,112 92,108" fill="none" stroke="#000" stroke-width="2.24" stroke-linecap="round" stroke-linejoin="round" /><rect x="68.3" y="101.7" width="23" height="22.5" rx="0" fill="#C00000" stroke="#000" stroke-width="1" /><polyline points="68,120 60,120 51,113" fill="none" stroke="#000" stroke-width="2.24" stroke-linecap="round" stroke-linejoin="round" /><ellipse cx="72" cy="121" rx="4" ry="3.5" fill="#000"/><ellipse cx="92" cy="121" rx="4" ry="3.5" fill="#000"/><ellipse cx="92" cy="107" rx="3.5" ry="3" fill="#000"/><ellipse cx="110.8" cy="85" rx="14" ry="15.5" fill="#D99A5A" stroke="#000" stroke-width="2.36"/><circle cx="106" cy="80.5" r="1.8399999999999999" fill="#000"/><path d="M101,90 Q104,95 108,92" fill="none" stroke="#000" stroke-width="1.3" stroke-linecap="round" stroke-linejoin="round" />
</g>
<g transform="translate(1080,1284)">
<rect x="0" y="0" width="180" height="152" fill="#686868"/>
<rect x="2" y="2" width="176" height="148" fill="url(#g_green)"/>
<text transform="translate(50.50,59.7) scale(1.0061,1)" font-size="45.52" font-weight="bold" fill="#000">talk</text>
<path d="M86,99 Q86,90 78,85 Q70,81 63,83 Q54,87 53.5,100 Q54,113 63,118 Q72,121 81,114 L76,107 L84,104 Q82,102 86,99 Z" fill="#D99A5A" stroke="#000" stroke-width="2" stroke-linecap="round" stroke-linejoin="round" /><circle cx="75" cy="95.5" r="2.1849999999999996" fill="#000"/><ellipse cx="109.2" cy="101.2" rx="16.3" ry="19.5" fill="#EDD4C0" stroke="#707070" stroke-width="2.36"/><circle cx="103" cy="96" r="1.8" fill="#555"/><path d="M115,97 Q120,101 114,106" fill="none" stroke="#606060" stroke-width="1.4" stroke-linecap="round" stroke-linejoin="round" /><path d="M98,111 Q104,111 108,108" fill="none" stroke="#707070" stroke-width="1.4" stroke-linecap="round" stroke-linejoin="round" />
</g>
<g transform="translate(1260,1284)">
<rect x="0" y="0" width="180" height="152" fill="#686868"/>
<rect x="2" y="2" width="176" height="148" fill="url(#g_green)"/>
<text transform="translate(55.50,59.7) scale(1.0491,1)" font-size="45.52" font-weight="bold" fill="#000">tell</text>
<polyline points="73.7,108 74.2,130" fill="none" stroke="#000" stroke-width="2.24" stroke-linecap="round" stroke-linejoin="round" /><polyline points="73,113 63,124 59,111" fill="none" stroke="#000" stroke-width="2.24" stroke-linecap="round" stroke-linejoin="round" /><polyline points="74,113 84,126 91,116" fill="none" stroke="#000" stroke-width="2.24" stroke-linecap="round" stroke-linejoin="round" /><ellipse cx="59" cy="111" rx="3.5" ry="3" fill="#000"/><polyline points="59,111 55,106" fill="none" stroke="#000" stroke-width="1.46" stroke-linecap="round" stroke-linejoin="round" /><polyline points="59,111 53,111" fill="none" stroke="#000" stroke-width="1.46" stroke-linecap="round" stroke-linejoin="round" /><polyline points="59,111 58,105" fill="none" stroke="#000" stroke-width="1.46" stroke-linecap="round" stroke-linejoin="round" /><ellipse cx="92" cy="115" rx="3.5" ry="3" fill="#000"/><polyline points="92,115 97,110" fill="none" stroke="#000" stroke-width="1.46" stroke-linecap="round" stroke-linejoin="round" /><polyline points="92,115 97,116" fill="none" stroke="#000" stroke-width="1.46" stroke-linecap="round" stroke-linejoin="round" /><polyline points="92,115 95,109" fill="none" stroke="#000" stroke-width="1.46" stroke-linecap="round" stroke-linejoin="round" /><polyline points="118.3,112.5 117,130" fill="none" stroke="#000" stroke-width="1.79" stroke-linecap="round" stroke-linejoin="round" /><polyline points="118,118 122,130" fill="none" stroke="#000" stroke-width="1.79" stroke-linecap="round" stroke-linejoin="round" /><ellipse cx="73.7" cy="94.5" rx="11.8" ry="13.5" fill="#D99A5A" stroke="#000" stroke-width="2.36"/><circle cx="70.5" cy="91.5" r="1.7249999999999999" fill="#000"/><circle cx="76.5" cy="91" r="1.7249999999999999" fill="#000"/><path d="M67,98 Q74,106 80,97 Z" fill="#F4ECEC" stroke="#000" stroke-width="1.3" stroke-linecap="round" stroke-linejoin="round" /><ellipse cx="118.3" cy="102.5" rx="8.7" ry="10" fill="#D99A5A" stroke="#000" stroke-width="2.12"/><circle cx="116" cy="100" r="1.38" fill="#000"/><circle cx="120" cy="98.5" r="1.38" fill="#000"/><path d="M91,71.7 L111,71.7 Q115,71.7 115,76 L115,88 Q115,92.5 111,92.5 L102,92.5 L88,96 L93,92.5 Q87.5,92.5 87.5,88 L87.5,76 Q87.5,71.7 91,71.7 Z" fill="#F4F4F4" stroke="#777" stroke-width="1" stroke-linecap="round" stroke-linejoin="round" /><rect x="91" y="77" width="6" height="12" rx="0" fill="#909090" stroke="none" stroke-width="1" /><rect x="97" y="81" width="10" height="8" rx="0" fill="#A0A0A0" stroke="none" stroke-width="1" /><rect x="107" y="75" width="5" height="14" rx="0" fill="#909090" stroke="none" stroke-width="1" /><rect x="100" y="83" width="4" height="6" rx="0" fill="#E0C060" stroke="none" stroke-width="1" />
</g>
<g transform="translate(1440,1284)">
<rect x="0" y="0" width="180" height="152" fill="#686868"/>
<rect x="2" y="2" width="176" height="148" fill="url(#g_green)"/>
<text transform="translate(36.50,60) scale(0.9829,1)" font-size="45.10" font-weight="bold" fill="#000">think</text>
<polyline points="89.9,99.5 88.5,131.4" fill="none" stroke="#000" stroke-width="2.24" stroke-linecap="round" stroke-linejoin="round" /><polyline points="89.9,104.3 102.4,121.7 82.2,121.7" fill="none" stroke="#000" stroke-width="2.24" stroke-linecap="round" stroke-linejoin="round" /><polyline points="82.2,121.7 76.5,96 80,89" fill="none" stroke="#000" stroke-width="2.24" stroke-linecap="round" stroke-linejoin="round" /><polyline points="82,122 77.4,125.9" fill="none" stroke="#000" stroke-width="1.79" stroke-linecap="round" stroke-linejoin="round" /><polyline points="77.4,125.9 75,123" fill="none" stroke="#000" stroke-width="1.34" stroke-linecap="round" stroke-linejoin="round" /><polyline points="77.4,125.9 76,129" fill="none" stroke="#000" stroke-width="1.34" stroke-linecap="round" stroke-linejoin="round" /><polyline points="77.4,125.9 80,129" fill="none" stroke="#000" stroke-width="1.34" stroke-linecap="round" stroke-linejoin="round" /><ellipse cx="95.4" cy="84.2" rx="13.5" ry="15" fill="#D99A5A" stroke="#000" stroke-width="2.36"/><ellipse cx="79" cy="92" rx="3.5" ry="4.5" fill="#000" transform="rotate(30 79 92)"/><circle cx="92" cy="79" r="2.4" fill="#FFF" stroke="#000" stroke-width="1"/><circle cx="98.5" cy="81" r="2.4" fill="#FFF" stroke="#000" stroke-width="1"/><circle cx="92" cy="78.5" r="1.15" fill="#000"/><circle cx="98.5" cy="80.5" r="1.15" fill="#000"/><path d="M87,88 Q88,95 94,94" fill="none" stroke="#000" stroke-width="1.5" stroke-linecap="round" stroke-linejoin="round" />
</g>
<g transform="translate(1620,1284)">
<rect x="0" y="0" width="180" height="152" fill="#686868"/>
<rect x="2" y="2" width="176" height="148" fill="url(#g_lcyan)"/>
<text transform="translate(65.90,60) scale(0.8520,1)" font-size="46.30" font-weight="bold" fill="#000">up</text>
<polygon points="76,93.3 89.3,76 103.3,93.3 96.7,93.3 96.7,126 82.7,126 82.7,93.3" fill="#00006A" stroke="#00006A" stroke-width="0.6" stroke-linejoin="round"/>
</g>
<g transform="translate(1800,1284)">
<rect x="0" y="0" width="180" height="152" fill="#686868"/>
<rect x="2" y="2" width="176" height="148" fill="url(#g_lcyan)"/>
<text transform="translate(54.20,91.7) scale(0.9867,1)" font-size="46.01" font-weight="bold" fill="#000">out</text>
</g>
<g transform="translate(1980,1284)">
<rect x="0" y="0" width="180" height="152" fill="#686868"/>
<rect x="2" y="2" width="176" height="148" fill="url(#g_extra)"/>
<text transform="translate(33.50,53) scale(0.9584,1)" font-size="34.88" font-weight="bold" fill="#000">EXTRA</text>
<text transform="translate(63.3,81) rotate(-32)" font-size="16" text-anchor="middle" fill="#6E6E92">And</text><text x="88.5" y="84" font-size="17" text-anchor="middle" fill="#20A040">It</text><text transform="translate(117,78) rotate(22)" font-size="16" text-anchor="middle" fill="#D03030">The</text><text x="90.5" y="108.3" font-size="22" text-anchor="middle" fill="#101010" textLength="77" lengthAdjust="spacingAndGlyphs">WORDS</text><text x="89.3" y="126.5" font-size="20" text-anchor="middle" fill="#2060B0">Up</text>
</g>
<g transform="translate(0,1436)">
<rect x="0" y="0" width="180" height="152" fill="#686868"/>
<rect x="2" y="2" width="176" height="148" fill="url(#g_yellow)"/>
<text transform="translate(45.90,95) scale(0.9078,1)" font-size="52.60" font-weight="bold" fill="#000">you</text>
</g>
<g transform="translate(180,1436)">
<rect x="0" y="0" width="180" height="152" fill="#686868"/>
<rect x="2" y="2" width="176" height="148" fill="url(#g_yellow)"/>
<text transform="translate(35.90,95) scale(0.9457,1)" font-size="52.50" font-weight="bold" fill="#000">your</text>
</g>
<g transform="translate(360,1436)">
<rect x="0" y="0" width="180" height="152" fill="#686868"/>
<rect x="2" y="2" width="176" height="148" fill="url(#g_actions)"/>
<text transform="translate(32.50,44) scale(0.9850,1)" font-size="25.79" font-weight="bold" fill="#000">ACTIONS</text>
<polyline points="101.7,72 93.3,103.3" fill="none" stroke="#000" stroke-width="2.46" stroke-linecap="round" stroke-linejoin="round" /><polyline points="100,79 85,79.3 98,82 110,95" fill="none" stroke="#000" stroke-width="2.46" stroke-linecap="round" stroke-linejoin="round" /><polyline points="101,79 113,90 120,78.3" fill="none" stroke="#000" stroke-width="2.46" stroke-linecap="round" stroke-linejoin="round" /><circle cx="120" cy="78" r="3.2" fill="#000"/><circle cx="110" cy="95" r="3.2" fill="#000"/><polyline points="93.3,103.3 81.7,113.3 61.7,109.3 56,118.3" fill="none" stroke="#000" stroke-width="2.46" stroke-linecap="round" stroke-linejoin="round" /><polyline points="93.3,103.3 110,112.7 93.3,126.7 101.7,130" fill="none" stroke="#000" stroke-width="2.46" stroke-linecap="round" stroke-linejoin="round" /><ellipse cx="101.7" cy="62.3" rx="8.5" ry="10" fill="#D99A5A" stroke="#000" stroke-width="2.36"/>
</g>
<g transform="translate(540,1436)">
<rect x="0" y="0" width="180" height="152" fill="#686868"/>
<rect x="2" y="2" width="176" height="148" fill="url(#g_green)"/>
<text transform="translate(39.33,60) scale(1.0090,1)" font-size="43.40" font-weight="bold" fill="#000">want</text>
<polyline points="62.7,100 58.3,128.3" fill="none" stroke="#000" stroke-width="2.24" stroke-linecap="round" stroke-linejoin="round" /><polyline points="62,106 93,107.3" fill="none" stroke="#000" stroke-width="2.24" stroke-linecap="round" stroke-linejoin="round" /><polyline points="62,108 70,124 91.7,125" fill="none" stroke="#000" stroke-width="2.24" stroke-linecap="round" stroke-linejoin="round" /><g transform="translate(94,107.3)"><ellipse cx="0" cy="0" rx="3" ry="3" fill="#000"/><polyline points="0,0 5,-5" fill="none" stroke="#000" stroke-width="1.79" stroke-linecap="round" stroke-linejoin="round" /><polyline points="0,0 6,0" fill="none" stroke="#000" stroke-width="1.79" stroke-linecap="round" stroke-linejoin="round" /><polyline points="0,0 5,4" fill="none" stroke="#000" stroke-width="1.79" stroke-linecap="round" stroke-linejoin="round" /></g><g transform="translate(92.5,125)"><ellipse cx="0" cy="0" rx="3" ry="3" fill="#000"/><polyline points="0,0 5,-5" fill="none" stroke="#000" stroke-width="1.79" stroke-linecap="round" stroke-linejoin="round" /><polyline points="0,0 6,0" fill="none" stroke="#000" stroke-width="1.79" stroke-linecap="round" stroke-linejoin="round" /><polyline points="0,0 5,4" fill="none" stroke="#000" stroke-width="1.79" stroke-linecap="round" stroke-linejoin="round" /></g><rect x="104" y="107.3" width="22" height="21" rx="0" fill="#C00000" stroke="#000" stroke-width="1" /><ellipse cx="67.3" cy="85" rx="13" ry="15" fill="#D99A5A" stroke="#000" stroke-width="2.36"/><circle cx="72" cy="82" r="1.7249999999999999" fill="#000"/><path d="M70,91 Q73,94 75,91" fill="none" stroke="#000" stroke-width="1.3" stroke-linecap="round" stroke-linejoin="round" />
</g>
<g transform="translate(720,1436)">
<rect x="0" y="0" width="180" height="152" fill="#686868"/>
<rect x="2" y="2" width="176" height="148" fill="url(#g_green)"/>
<text transform="translate(47.90,59.7) scale(0.9714,1)" font-size="44.33" font-weight="bold" fill="#000">turn</text>
<path d="M57,132.8 L68.7,132.8 L68.7,98 Q68.7,89.2 77.5,89.2 L100.5,89.2 L100.5,96.7 L123.3,83.3 L100.5,69.7 L100.5,77.5 L77.5,77.5 Q57,77.5 57,98 Z" fill="#8B0000" stroke="#000" stroke-width="0.8" stroke-linecap="round" stroke-linejoin="round" />
</g>
<g transform="translate(900,1436)">
<rect x="0" y="0" width="180" height="152" fill="#686868"/>
<rect x="2" y="2" width="176" height="148" fill="url(#g_green)"/>
<text transform="translate(42.63,59.7) scale(0.9514,1)" font-size="45.52" font-weight="bold" fill="#000">walk</text>
<polyline points="102.5,83.3 102.5,108.3 95,126.5 97,128.3" fill="none" stroke="#000" stroke-width="2.02" stroke-linecap="round" stroke-linejoin="round" /><polyline points="102.5,108.3 112.5,115 114,127 118.3,125.5" fill="none" stroke="#000" stroke-width="2.02" stroke-linecap="round" stroke-linejoin="round" /><polyline points="102,88 91.7,95.8 96.7,104 95,108" fill="none" stroke="#000" stroke-width="2.02" stroke-linecap="round" stroke-linejoin="round" /><polyline points="102,88 108,100 114.2,105.8 113,109" fill="none" stroke="#000" stroke-width="2.02" stroke-linecap="round" stroke-linejoin="round" /><ellipse cx="103" cy="76.3" rx="6" ry="7.5" fill="#D99A5A" stroke="#000" stroke-width="1.89"/>
</g>
<g transform="translate(1080,1436)">
<rect x="0" y="0" width="180" height="152" fill="#686868"/>
<rect x="2" y="2" width="176" height="148" fill="url(#g_green)"/>
<text transform="translate(33.52,58.3) scale(0.9025,1)" font-size="43.59" font-weight="bold" fill="#000">watch</text>
<rect x="56.2" y="68" width="68" height="39.5" rx="0" fill="#000" stroke="none" stroke-width="1" /><rect x="60" y="70.8" width="60" height="34.2" rx="4" fill="#EEF0F8" stroke="none" stroke-width="1" /><path d="M70,96 Q66,90 73,88 Q78,92 75,97 Q80,101 86,100" fill="none" stroke="#B01818" stroke-width="1.6" stroke-linecap="round" stroke-linejoin="round" /><path d="M100,74 Q106,78 102,82 Q106,86 110,90" fill="none" stroke="#2050C0" stroke-width="1.4" stroke-linecap="round" stroke-linejoin="round" /><path d="M87,86 Q92,84 97,88 Q100,90 103,86" fill="none" stroke="#E8D040" stroke-width="1.6" stroke-linecap="round" stroke-linejoin="round" /><circle cx="74" cy="83" r="1" fill="#F0A020"/><circle cx="81" cy="78" r="1" fill="#2080D0"/><circle cx="95" cy="77" r="1" fill="#F0A020"/><circle cx="107" cy="94" r="1" fill="#D02020"/><circle cx="84" cy="93" r="1" fill="#F0A020"/><circle cx="67" cy="100" r="1" fill="#2080D0"/><rect x="52" y="106.7" width="76" height="10" rx="0" fill="#D8B080" stroke="#000" stroke-width="1" /><g fill="#000"><circle cx="65.5" cy="115" r="5.5"/><circle cx="90" cy="115" r="5.5"/><circle cx="114.5" cy="115" r="5.5"/></g><g fill="#D89A5A"><rect x="61" y="118" width="9" height="4"/><rect x="85.5" y="118" width="9" height="4"/><rect x="110" y="118" width="9" height="4"/></g><path d="M57,132 Q57,124 65.5,123.5 Q74,124 74,132 Z" fill="#6A4020" stroke="#000" stroke-width="0.8" stroke-linecap="round" stroke-linejoin="round" /><rect x="58" y="123" width="15" height="2.5" rx="0" fill="#2070C0" stroke="none" stroke-width="1" /><path d="M81.5,132 Q81.5,124 90,123.5 Q98.5,124 98.5,132 Z" fill="#6A4020" stroke="#000" stroke-width="0.8" stroke-linecap="round" stroke-linejoin="round" /><rect x="82.5" y="123" width="15" height="2.5" rx="0" fill="#30A0E0" stroke="none" stroke-width="1" /><path d="M106,132 Q106,124 114.5,123.5 Q123,124 123,132 Z" fill="#6A4020" stroke="#000" stroke-width="0.8" stroke-linecap="round" stroke-linejoin="round" /><rect x="107" y="123" width="15" height="2.5" rx="0" fill="#C02020" stroke="none" stroke-width="1" />
</g>
<g transform="translate(1260,1436)">
<rect x="0" y="0" width="180" height="152" fill="#686868"/>
<rect x="2" y="2" width="176" height="148" fill="url(#g_green)"/>
<text transform="translate(40.13,59.7) scale(1.0311,1)" font-size="42.12" font-weight="bold" fill="#000">wear</text>
<ellipse cx="87" cy="114" rx="23.5" ry="19" fill="#D99A5A" stroke="#000" stroke-width="2.83"/><circle cx="78" cy="103" r="2.53" fill="#000"/><circle cx="95.8" cy="103" r="2.53" fill="#000"/><path d="M77,117 Q87,126 97,117" fill="none" stroke="#000" stroke-width="2.2" stroke-linecap="round" stroke-linejoin="round" /><path d="M63.5,96 Q62,78 74,72 Q88,66 100,72 Q110,78 112,92 Q116,95 116.7,100 L103,99 Q85,95 63.5,100 Z" fill="#30A840" stroke="#000" stroke-width="1.6" stroke-linecap="round" stroke-linejoin="round" /><path d="M64,95 Q85,88 104,92 L116.7,100 L103,99 Q85,95 64,100 Z" fill="#208A30" stroke="#000" stroke-width="1.2" stroke-linecap="round" stroke-linejoin="round" /><path d="M88,70 Q84,80 85,92 M74,74 Q70,82 70,95" fill="none" stroke="#000" stroke-width="1" stroke-linecap="round" stroke-linejoin="round" />
</g>
<g transform="translate(1440,1436)">
<rect x="0" y="0" width="180" height="152" fill="#686868"/>
<rect x="2" y="2" width="176" height="148" fill="url(#g_green)"/>
<text transform="translate(40.03,60) scale(0.9498,1)" font-size="45.10" font-weight="bold" fill="#000">work</text>
<polyline points="89.3,96.7 89,111.7" fill="none" stroke="#000" stroke-width="2.24" stroke-linecap="round" stroke-linejoin="round" /><polyline points="89,103 70,106 63.3,113.3" fill="none" stroke="#000" stroke-width="2.24" stroke-linecap="round" stroke-linejoin="round" /><polyline points="89,103 104,104 110,113.3" fill="none" stroke="#000" stroke-width="2.24" stroke-linecap="round" stroke-linejoin="round" /><polygon points="63,117 79,114 82,126 65,129" fill="#F4E0A0" stroke="#000" stroke-width="0.8" stroke-linejoin="round"/><polyline points="60,103 66,115" fill="none" stroke="#D09020" stroke-width="2.02" stroke-linecap="round" stroke-linejoin="round" /><polygon points="83,113 101,115 121,113 122,128 101,132.7 83,128" fill="#F8F8F8" stroke="#000" stroke-width="0.8" stroke-linejoin="round"/><polyline points="83,128 101,132.7 122,128" fill="none" stroke="#C02020" stroke-width="2.46" stroke-linecap="round" stroke-linejoin="round" /><ellipse cx="109" cy="115" rx="3" ry="3" fill="#000"/><ellipse cx="91.7" cy="81.7" rx="12.5" ry="13.5" fill="#D99A5A" stroke="#000" stroke-width="2.36"/><circle cx="95" cy="78" r="1.6099999999999999" fill="#000"/><path d="M89,86 Q93,90 97,86" fill="none" stroke="#000" stroke-width="1.3" stroke-linecap="round" stroke-linejoin="round" />
</g>
<g transform="translate(1620,1436)">
<rect x="0" y="0" width="180" height="152" fill="#686868"/>
<rect x="2" y="2" width="176" height="148" fill="url(#g_lcyan)"/>
<text transform="translate(35.20,60) scale(0.9200,1)" font-size="45.10" font-weight="bold" fill="#000">down</text>
<polygon points="82.7,75 96.7,75 96.7,107.3 103.3,107.3 89.3,125 76,107.3 82.7,107.3" fill="#00006A" stroke="#00006A" stroke-width="0.6" stroke-linejoin="round"/>
</g>
<g transform="translate(1800,1436)">
<rect x="0" y="0" width="180" height="152" fill="#686868"/>
<rect x="2" y="2" width="176" height="148" fill="url(#g_lcyan)"/>
<text transform="translate(44.33,91.7) scale(0.9742,1)" font-size="46.07" font-weight="bold" fill="#000">with</text>
</g>
<g transform="translate(1980,1436)">
<rect x="0" y="0" width="180" height="152" fill="#000000"/>
<rect x="2" y="2" width="176" height="148" fill="url(#g_white)"/>
<text transform="translate(38.50,91.7) scale(0.9510,1)" font-size="46.07" font-weight="bold" fill="#000">clear</text>
</g>
</svg></body></html>
